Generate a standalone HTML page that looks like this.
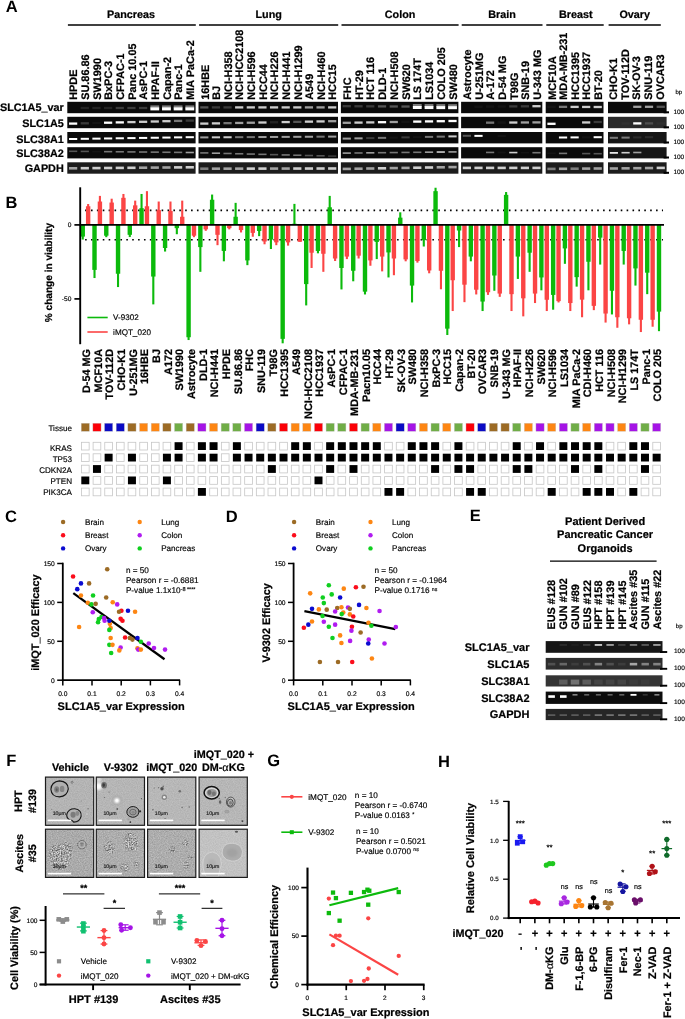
<!DOCTYPE html>
<html lang="en"><head><meta charset="utf-8"><title>Figure</title>
<style>html,body{margin:0;padding:0;background:#fff;}body{width:685px;height:1019px;overflow:hidden;}svg{display:block;filter:blur(0.38px);font-family:'Liberation Sans', sans-serif;}</style>
</head><body>
<svg width="685" height="1019" viewBox="0 0 685 1019" text-rendering="geometricPrecision">
<defs><filter id="bl" x="-20%" y="-100%" width="140%" height="300%"><feGaussianBlur stdDeviation="0.75"/></filter>
<filter id="bl2" x="-50%" y="-50%" width="200%" height="200%"><feGaussianBlur stdDeviation="1.0"/></filter>
<filter id="noise" color-interpolation-filters="sRGB" x="-10%" y="-10%" width="120%" height="120%"><feTurbulence type="fractalNoise" baseFrequency="0.75" numOctaves="2" seed="11" result="n"/><feColorMatrix in="n" type="matrix" values="1.15 0 0 0 0.06  1.15 0 0 0 0.06  1.15 0 0 0 0.06  0 0 0 0 1" result="m"/><feGaussianBlur in="SourceAlpha" stdDeviation="1.1" result="a"/><feComposite in="m" in2="a" operator="in" result="c"/><feColorMatrix in="c" type="matrix" values="1 0 0 0 0  0 1 0 0 0  0 0 1 0 0  0 0 0 0.85 0"/></filter>
<filter id="grain" color-interpolation-filters="sRGB" x="0" y="0" width="100%" height="100%"><feTurbulence type="fractalNoise" baseFrequency="0.85" numOctaves="2" seed="7" result="n"/><feColorMatrix in="n" type="matrix" values="1.2 0 0 0 0.08  1.2 0 0 0 0.08  1.2 0 0 0 0.08  0 0 0 0 0.5"/></filter>
</defs>
<rect width="685" height="1019" fill="#fff"/>
<g id="panelA">
<text x="5.80" y="11.90" font-size="16.5" font-weight="bold" text-anchor="start" fill="#000">A</text>
<text x="63.80" y="111.40" font-size="10.85" font-weight="bold" text-anchor="end" fill="#000" stroke="#000" stroke-width="0.22">SLC1A5_var</text>
<text x="63.80" y="127.40" font-size="10.85" font-weight="bold" text-anchor="end" fill="#000" stroke="#000" stroke-width="0.22">SLC1A5</text>
<text x="63.80" y="142.60" font-size="10.85" font-weight="bold" text-anchor="end" fill="#000" stroke="#000" stroke-width="0.22">SLC38A1</text>
<text x="63.80" y="157.20" font-size="10.85" font-weight="bold" text-anchor="end" fill="#000" stroke="#000" stroke-width="0.22">SLC38A2</text>
<text x="63.80" y="172.40" font-size="10.85" font-weight="bold" text-anchor="end" fill="#000" stroke="#000" stroke-width="0.22">GAPDH</text>
<text x="131.05" y="18.20" font-size="10.8" font-weight="bold" text-anchor="middle" fill="#000" stroke="#000" stroke-width="0.22">Pancreas</text>
<line x1="67.90" y1="24.90" x2="195.80" y2="24.90" stroke="#000" stroke-width="1.5"/>
<text transform="translate(77.33,99.80) rotate(-90)" font-size="10.9" font-weight="bold" text-anchor="start" fill="#000" stroke="#000" stroke-width="0.22">HPDE</text>
<text transform="translate(89.00,99.80) rotate(-90)" font-size="10.9" font-weight="bold" text-anchor="start" fill="#000" stroke="#000" stroke-width="0.22">SU.86.86</text>
<text transform="translate(100.66,99.80) rotate(-90)" font-size="10.9" font-weight="bold" text-anchor="start" fill="#000" stroke="#000" stroke-width="0.22">SW1990</text>
<text transform="translate(112.32,99.80) rotate(-90)" font-size="10.9" font-weight="bold" text-anchor="start" fill="#000" stroke="#000" stroke-width="0.22">BxPC-3</text>
<text transform="translate(123.99,99.80) rotate(-90)" font-size="10.9" font-weight="bold" text-anchor="start" fill="#000" stroke="#000" stroke-width="0.22">CFPAC-1</text>
<text transform="translate(135.65,99.80) rotate(-90)" font-size="10.9" font-weight="bold" text-anchor="start" fill="#000" stroke="#000" stroke-width="0.22">Panc 10.05</text>
<text transform="translate(147.32,99.80) rotate(-90)" font-size="10.9" font-weight="bold" text-anchor="start" fill="#000" stroke="#000" stroke-width="0.22">AsPC-1</text>
<text transform="translate(158.98,99.80) rotate(-90)" font-size="10.9" font-weight="bold" text-anchor="start" fill="#000" stroke="#000" stroke-width="0.22">HPAF-II</text>
<text transform="translate(170.64,99.80) rotate(-90)" font-size="10.9" font-weight="bold" text-anchor="start" fill="#000" stroke="#000" stroke-width="0.22">Capan-2</text>
<text transform="translate(182.31,99.80) rotate(-90)" font-size="10.9" font-weight="bold" text-anchor="start" fill="#000" stroke="#000" stroke-width="0.22">Panc-1</text>
<text transform="translate(193.97,99.80) rotate(-90)" font-size="10.9" font-weight="bold" text-anchor="start" fill="#000" stroke="#000" stroke-width="0.22">MIA PaCa-2</text>
<rect x="67.30" y="101.80" width="128.30" height="11.40" fill="#0a0a0a"/>
<g filter="url(#bl)">
<rect x="80.70" y="106.85" width="8.20" height="2.30" fill="rgb(111,111,111)" opacity="0.25"/>
<rect x="92.36" y="106.85" width="8.20" height="2.30" fill="rgb(111,111,111)" opacity="0.25"/>
<rect x="104.02" y="106.85" width="8.20" height="2.30" fill="rgb(111,111,111)" opacity="0.25"/>
<rect x="115.69" y="106.85" width="8.20" height="2.30" fill="rgb(136,136,136)" opacity="0.38"/>
<rect x="127.35" y="106.85" width="8.20" height="2.30" fill="rgb(136,136,136)" opacity="0.38"/>
<rect x="139.01" y="106.85" width="8.20" height="2.30" fill="rgb(136,136,136)" opacity="0.38"/>
<rect x="150.38" y="105.40" width="8.80" height="3.00" fill="#9a9a9a" opacity="0.8"/>
<rect x="150.38" y="107.40" width="8.80" height="3.00" fill="#ffffff"/>
<rect x="162.04" y="105.40" width="8.80" height="3.00" fill="#9a9a9a" opacity="0.8"/>
<rect x="162.04" y="107.40" width="8.80" height="3.00" fill="#ffffff"/>
<rect x="173.70" y="105.40" width="8.80" height="3.00" fill="#9a9a9a" opacity="0.8"/>
<rect x="173.70" y="107.40" width="8.80" height="3.00" fill="#ffffff"/>
<rect x="185.37" y="105.40" width="8.80" height="3.00" fill="#9a9a9a" opacity="0.8"/>
<rect x="185.37" y="107.40" width="8.80" height="3.00" fill="#ffffff"/>
</g>
<rect x="67.30" y="116.80" width="128.30" height="11.40" fill="#0a0a0a"/>
<g filter="url(#bl)">
<rect x="69.03" y="122.45" width="8.20" height="2.30" fill="rgb(255,255,255)" opacity="1.00"/>
<rect x="80.70" y="122.15" width="8.20" height="2.30" fill="rgb(136,136,136)" opacity="0.38"/>
<rect x="92.36" y="121.85" width="8.20" height="2.30" fill="rgb(87,87,87)" opacity="0.12"/>
<rect x="104.02" y="121.55" width="8.20" height="2.30" fill="rgb(255,255,255)" opacity="1.00"/>
<rect x="115.69" y="121.25" width="8.20" height="2.30" fill="rgb(255,255,255)" opacity="1.00"/>
<rect x="127.35" y="120.95" width="8.20" height="2.30" fill="rgb(232,232,232)" opacity="0.88"/>
<rect x="139.01" y="120.65" width="8.20" height="2.30" fill="rgb(232,232,232)" opacity="0.88"/>
<rect x="150.68" y="120.35" width="8.20" height="2.30" fill="rgb(232,232,232)" opacity="0.88"/>
<rect x="162.34" y="120.05" width="8.20" height="2.30" fill="rgb(232,232,232)" opacity="0.88"/>
<rect x="174.00" y="119.75" width="8.20" height="2.30" fill="rgb(184,184,184)" opacity="0.62"/>
<rect x="185.67" y="119.45" width="8.20" height="2.30" fill="rgb(136,136,136)" opacity="0.38"/>
</g>
<rect x="67.30" y="132.00" width="128.30" height="11.40" fill="#0a0a0a"/>
<g filter="url(#bl)">
<rect x="69.03" y="138.00" width="8.20" height="2.00" fill="rgb(255,255,255)" opacity="1.00"/>
<rect x="80.70" y="137.82" width="8.20" height="2.00" fill="rgb(255,255,255)" opacity="1.00"/>
<rect x="92.36" y="137.64" width="8.20" height="2.00" fill="rgb(255,255,255)" opacity="1.00"/>
<rect x="104.02" y="137.46" width="8.20" height="2.00" fill="rgb(255,255,255)" opacity="1.00"/>
<rect x="115.69" y="137.28" width="8.20" height="2.00" fill="rgb(255,255,255)" opacity="1.00"/>
<rect x="127.35" y="137.10" width="8.20" height="2.00" fill="rgb(255,255,255)" opacity="1.00"/>
<rect x="139.01" y="136.92" width="8.20" height="2.00" fill="rgb(255,255,255)" opacity="1.00"/>
<rect x="150.68" y="136.74" width="8.20" height="2.00" fill="rgb(255,255,255)" opacity="1.00"/>
<rect x="162.34" y="136.56" width="8.20" height="2.00" fill="rgb(255,255,255)" opacity="1.00"/>
<rect x="174.00" y="136.38" width="8.20" height="2.00" fill="rgb(255,255,255)" opacity="1.00"/>
<rect x="185.67" y="136.20" width="8.20" height="2.00" fill="rgb(255,255,255)" opacity="1.00"/>
</g>
<rect x="67.30" y="147.20" width="128.30" height="11.20" fill="#0a0a0a"/>
<g filter="url(#bl)">
<rect x="69.03" y="150.50" width="8.20" height="1.60" fill="rgb(160,160,160)" opacity="0.50"/>
<rect x="80.70" y="150.62" width="8.20" height="1.60" fill="rgb(160,160,160)" opacity="0.50"/>
<rect x="92.36" y="150.74" width="8.20" height="1.60" fill="rgb(87,87,87)" opacity="0.12"/>
<rect x="104.02" y="150.86" width="8.20" height="1.60" fill="rgb(184,184,184)" opacity="0.62"/>
<rect x="115.69" y="150.98" width="8.20" height="1.60" fill="rgb(184,184,184)" opacity="0.62"/>
<rect x="127.35" y="151.10" width="8.20" height="1.60" fill="rgb(184,184,184)" opacity="0.62"/>
<rect x="139.01" y="151.22" width="8.20" height="1.60" fill="rgb(184,184,184)" opacity="0.62"/>
<rect x="150.68" y="151.34" width="8.20" height="1.60" fill="rgb(184,184,184)" opacity="0.62"/>
<rect x="162.34" y="151.46" width="8.20" height="1.60" fill="rgb(184,184,184)" opacity="0.62"/>
<rect x="174.00" y="151.58" width="8.20" height="1.60" fill="rgb(184,184,184)" opacity="0.62"/>
<rect x="185.67" y="151.70" width="8.20" height="1.60" fill="rgb(208,208,208)" opacity="0.75"/>
</g>
<rect x="67.30" y="162.30" width="128.30" height="11.40" fill="#1c1c1c"/>
<g filter="url(#bl)">
<rect x="69.03" y="167.00" width="8.20" height="2.60" fill="rgb(208,208,208)" opacity="0.75"/>
<rect x="80.70" y="166.90" width="8.20" height="2.60" fill="rgb(232,232,232)" opacity="0.88"/>
<rect x="92.36" y="166.80" width="8.20" height="2.60" fill="rgb(232,232,232)" opacity="0.88"/>
<rect x="104.02" y="166.70" width="8.20" height="2.60" fill="rgb(232,232,232)" opacity="0.88"/>
<rect x="115.69" y="166.60" width="8.20" height="2.60" fill="rgb(232,232,232)" opacity="0.88"/>
<rect x="127.35" y="166.50" width="8.20" height="2.60" fill="rgb(232,232,232)" opacity="0.88"/>
<rect x="139.01" y="166.40" width="8.20" height="2.60" fill="rgb(208,208,208)" opacity="0.75"/>
<rect x="150.68" y="166.30" width="8.20" height="2.60" fill="rgb(208,208,208)" opacity="0.75"/>
<rect x="162.34" y="166.20" width="8.20" height="2.60" fill="rgb(208,208,208)" opacity="0.75"/>
<rect x="174.00" y="166.10" width="8.20" height="2.60" fill="rgb(232,232,232)" opacity="0.88"/>
<rect x="185.67" y="166.00" width="8.20" height="2.60" fill="rgb(232,232,232)" opacity="0.88"/>
</g>
<text x="268.65" y="18.20" font-size="10.8" font-weight="bold" text-anchor="middle" fill="#000" stroke="#000" stroke-width="0.22">Lung</text>
<line x1="199.10" y1="24.90" x2="338.20" y2="24.90" stroke="#000" stroke-width="1.5"/>
<text transform="translate(208.51,99.80) rotate(-90)" font-size="10.9" font-weight="bold" text-anchor="start" fill="#000" stroke="#000" stroke-width="0.22">16HBE</text>
<text transform="translate(220.14,99.80) rotate(-90)" font-size="10.9" font-weight="bold" text-anchor="start" fill="#000" stroke="#000" stroke-width="0.22">BJ</text>
<text transform="translate(231.76,99.80) rotate(-90)" font-size="10.9" font-weight="bold" text-anchor="start" fill="#000" stroke="#000" stroke-width="0.22">NCI-H358</text>
<text transform="translate(243.39,99.80) rotate(-90)" font-size="10.9" font-weight="bold" text-anchor="start" fill="#000" stroke="#000" stroke-width="0.22">NCI-HCC2108</text>
<text transform="translate(255.01,99.80) rotate(-90)" font-size="10.9" font-weight="bold" text-anchor="start" fill="#000" stroke="#000" stroke-width="0.22">NCI-H596</text>
<text transform="translate(266.64,99.80) rotate(-90)" font-size="10.9" font-weight="bold" text-anchor="start" fill="#000" stroke="#000" stroke-width="0.22">HCC44</text>
<text transform="translate(278.26,99.80) rotate(-90)" font-size="10.9" font-weight="bold" text-anchor="start" fill="#000" stroke="#000" stroke-width="0.22">NCI-H226</text>
<text transform="translate(289.89,99.80) rotate(-90)" font-size="10.9" font-weight="bold" text-anchor="start" fill="#000" stroke="#000" stroke-width="0.22">NCI-H441</text>
<text transform="translate(301.51,99.80) rotate(-90)" font-size="10.9" font-weight="bold" text-anchor="start" fill="#000" stroke="#000" stroke-width="0.22">NCI-H1299</text>
<text transform="translate(313.14,99.80) rotate(-90)" font-size="10.9" font-weight="bold" text-anchor="start" fill="#000" stroke="#000" stroke-width="0.22">A549</text>
<text transform="translate(324.76,99.80) rotate(-90)" font-size="10.9" font-weight="bold" text-anchor="start" fill="#000" stroke="#000" stroke-width="0.22">NCI-H460</text>
<text transform="translate(336.39,99.80) rotate(-90)" font-size="10.9" font-weight="bold" text-anchor="start" fill="#000" stroke="#000" stroke-width="0.22">HCC15</text>
<rect x="198.50" y="101.80" width="139.50" height="11.40" fill="#0a0a0a"/>
<g filter="url(#bl)">
<rect x="200.21" y="106.25" width="8.20" height="2.30" fill="rgb(160,160,160)" opacity="0.50"/>
<rect x="211.84" y="106.25" width="8.20" height="2.30" fill="rgb(136,136,136)" opacity="0.38"/>
<rect x="223.46" y="106.25" width="8.20" height="2.30" fill="rgb(136,136,136)" opacity="0.38"/>
<rect x="235.09" y="106.25" width="8.20" height="2.30" fill="rgb(232,232,232)" opacity="0.88"/>
<rect x="246.71" y="106.25" width="8.20" height="2.30" fill="rgb(232,232,232)" opacity="0.88"/>
<rect x="258.34" y="106.25" width="8.20" height="2.30" fill="rgb(232,232,232)" opacity="0.88"/>
<rect x="269.96" y="106.25" width="8.20" height="2.30" fill="rgb(232,232,232)" opacity="0.88"/>
<rect x="281.59" y="106.25" width="8.20" height="2.30" fill="rgb(232,232,232)" opacity="0.88"/>
<rect x="293.21" y="106.25" width="8.20" height="2.30" fill="rgb(232,232,232)" opacity="0.88"/>
<rect x="304.84" y="106.25" width="8.20" height="2.30" fill="rgb(208,208,208)" opacity="0.75"/>
<rect x="316.46" y="106.25" width="8.20" height="2.30" fill="rgb(208,208,208)" opacity="0.75"/>
<rect x="328.09" y="106.25" width="8.20" height="2.30" fill="rgb(232,232,232)" opacity="0.88"/>
</g>
<rect x="198.50" y="116.80" width="139.50" height="11.40" fill="#0a0a0a"/>
<g filter="url(#bl)">
<rect x="200.21" y="122.45" width="8.20" height="2.30" fill="rgb(232,232,232)" opacity="0.88"/>
<rect x="211.84" y="122.23" width="8.20" height="2.30" fill="rgb(232,232,232)" opacity="0.88"/>
<rect x="223.46" y="122.01" width="8.20" height="2.30" fill="rgb(184,184,184)" opacity="0.62"/>
<rect x="235.09" y="121.80" width="8.20" height="2.30" fill="rgb(208,208,208)" opacity="0.75"/>
<rect x="246.71" y="121.58" width="8.20" height="2.30" fill="rgb(208,208,208)" opacity="0.75"/>
<rect x="258.34" y="121.36" width="8.20" height="2.30" fill="rgb(232,232,232)" opacity="0.88"/>
<rect x="269.96" y="121.14" width="8.20" height="2.30" fill="rgb(111,111,111)" opacity="0.25"/>
<rect x="281.59" y="120.92" width="8.20" height="2.30" fill="rgb(232,232,232)" opacity="0.88"/>
<rect x="293.21" y="120.70" width="8.20" height="2.30" fill="rgb(160,160,160)" opacity="0.50"/>
<rect x="304.84" y="120.49" width="8.20" height="2.30" fill="rgb(232,232,232)" opacity="0.88"/>
<rect x="316.46" y="120.27" width="8.20" height="2.30" fill="rgb(232,232,232)" opacity="0.88"/>
<rect x="328.09" y="120.05" width="8.20" height="2.30" fill="rgb(208,208,208)" opacity="0.75"/>
</g>
<rect x="198.50" y="132.00" width="139.50" height="11.40" fill="#0a0a0a"/>
<g filter="url(#bl)">
<rect x="200.21" y="136.40" width="8.20" height="2.00" fill="rgb(208,208,208)" opacity="0.75"/>
<rect x="211.84" y="136.33" width="8.20" height="2.00" fill="rgb(232,232,232)" opacity="0.88"/>
<rect x="223.46" y="136.25" width="8.20" height="2.00" fill="rgb(232,232,232)" opacity="0.88"/>
<rect x="235.09" y="136.18" width="8.20" height="2.00" fill="rgb(184,184,184)" opacity="0.62"/>
<rect x="246.71" y="136.11" width="8.20" height="2.00" fill="rgb(184,184,184)" opacity="0.62"/>
<rect x="258.34" y="136.04" width="8.20" height="2.00" fill="rgb(208,208,208)" opacity="0.75"/>
<rect x="269.96" y="135.96" width="8.20" height="2.00" fill="rgb(208,208,208)" opacity="0.75"/>
<rect x="281.59" y="135.89" width="8.20" height="2.00" fill="rgb(208,208,208)" opacity="0.75"/>
<rect x="293.21" y="135.82" width="8.20" height="2.00" fill="rgb(208,208,208)" opacity="0.75"/>
<rect x="304.84" y="135.75" width="8.20" height="2.00" fill="rgb(208,208,208)" opacity="0.75"/>
<rect x="316.46" y="135.67" width="8.20" height="2.00" fill="rgb(184,184,184)" opacity="0.62"/>
<rect x="328.09" y="135.60" width="8.20" height="2.00" fill="rgb(208,208,208)" opacity="0.75"/>
</g>
<rect x="198.50" y="147.20" width="139.50" height="11.20" fill="#0a0a0a"/>
<g filter="url(#bl)">
<rect x="200.21" y="152.10" width="8.20" height="1.60" fill="rgb(184,184,184)" opacity="0.62"/>
<rect x="211.84" y="152.39" width="8.20" height="1.60" fill="rgb(208,208,208)" opacity="0.75"/>
<rect x="223.46" y="152.68" width="8.20" height="1.60" fill="rgb(184,184,184)" opacity="0.62"/>
<rect x="235.09" y="152.97" width="8.20" height="1.60" fill="rgb(184,184,184)" opacity="0.62"/>
<rect x="246.71" y="153.26" width="8.20" height="1.60" fill="rgb(184,184,184)" opacity="0.62"/>
<rect x="258.34" y="153.55" width="8.20" height="1.60" fill="rgb(184,184,184)" opacity="0.62"/>
<rect x="269.96" y="153.85" width="8.20" height="1.60" fill="rgb(160,160,160)" opacity="0.50"/>
<rect x="281.59" y="154.14" width="8.20" height="1.60" fill="rgb(184,184,184)" opacity="0.62"/>
<rect x="293.21" y="154.43" width="8.20" height="1.60" fill="rgb(184,184,184)" opacity="0.62"/>
<rect x="304.84" y="154.72" width="8.20" height="1.60" fill="rgb(160,160,160)" opacity="0.50"/>
<rect x="316.46" y="155.01" width="8.20" height="1.60" fill="rgb(160,160,160)" opacity="0.50"/>
<rect x="328.09" y="155.30" width="8.20" height="1.60" fill="rgb(136,136,136)" opacity="0.38"/>
</g>
<rect x="198.50" y="162.30" width="139.50" height="11.40" fill="#1c1c1c"/>
<g filter="url(#bl)">
<rect x="200.21" y="167.40" width="8.20" height="2.60" fill="rgb(184,184,184)" opacity="0.62"/>
<rect x="211.84" y="167.38" width="8.20" height="2.60" fill="rgb(208,208,208)" opacity="0.75"/>
<rect x="223.46" y="167.36" width="8.20" height="2.60" fill="rgb(208,208,208)" opacity="0.75"/>
<rect x="235.09" y="167.35" width="8.20" height="2.60" fill="rgb(208,208,208)" opacity="0.75"/>
<rect x="246.71" y="167.33" width="8.20" height="2.60" fill="rgb(232,232,232)" opacity="0.88"/>
<rect x="258.34" y="167.31" width="8.20" height="2.60" fill="rgb(232,232,232)" opacity="0.88"/>
<rect x="269.96" y="167.29" width="8.20" height="2.60" fill="rgb(208,208,208)" opacity="0.75"/>
<rect x="281.59" y="167.27" width="8.20" height="2.60" fill="rgb(208,208,208)" opacity="0.75"/>
<rect x="293.21" y="167.25" width="8.20" height="2.60" fill="rgb(232,232,232)" opacity="0.88"/>
<rect x="304.84" y="167.24" width="8.20" height="2.60" fill="rgb(232,232,232)" opacity="0.88"/>
<rect x="316.46" y="167.22" width="8.20" height="2.60" fill="rgb(232,232,232)" opacity="0.88"/>
<rect x="328.09" y="167.20" width="8.20" height="2.60" fill="rgb(232,232,232)" opacity="0.88"/>
</g>
<text x="400.05" y="18.20" font-size="10.8" font-weight="bold" text-anchor="middle" fill="#000" stroke="#000" stroke-width="0.22">Colon</text>
<line x1="341.50" y1="24.90" x2="458.60" y2="24.90" stroke="#000" stroke-width="1.5"/>
<text transform="translate(350.98,99.80) rotate(-90)" font-size="10.9" font-weight="bold" text-anchor="start" fill="#000" stroke="#000" stroke-width="0.22">FHC</text>
<text transform="translate(362.73,99.80) rotate(-90)" font-size="10.9" font-weight="bold" text-anchor="start" fill="#000" stroke="#000" stroke-width="0.22">HT-29</text>
<text transform="translate(374.48,99.80) rotate(-90)" font-size="10.9" font-weight="bold" text-anchor="start" fill="#000" stroke="#000" stroke-width="0.22">HCT 116</text>
<text transform="translate(386.23,99.80) rotate(-90)" font-size="10.9" font-weight="bold" text-anchor="start" fill="#000" stroke="#000" stroke-width="0.22">DLD-1</text>
<text transform="translate(397.98,99.80) rotate(-90)" font-size="10.9" font-weight="bold" text-anchor="start" fill="#000" stroke="#000" stroke-width="0.22">NCI-H508</text>
<text transform="translate(409.73,99.80) rotate(-90)" font-size="10.9" font-weight="bold" text-anchor="start" fill="#000" stroke="#000" stroke-width="0.22">SW620</text>
<text transform="translate(421.48,99.80) rotate(-90)" font-size="10.9" font-weight="bold" text-anchor="start" fill="#000" stroke="#000" stroke-width="0.22">LS 174T</text>
<text transform="translate(433.23,99.80) rotate(-90)" font-size="10.9" font-weight="bold" text-anchor="start" fill="#000" stroke="#000" stroke-width="0.22">LS1034</text>
<text transform="translate(444.98,99.80) rotate(-90)" font-size="10.9" font-weight="bold" text-anchor="start" fill="#000" stroke="#000" stroke-width="0.22">COLO 205</text>
<text transform="translate(456.73,99.80) rotate(-90)" font-size="10.9" font-weight="bold" text-anchor="start" fill="#000" stroke="#000" stroke-width="0.22">SW480</text>
<rect x="340.90" y="101.80" width="117.50" height="11.40" fill="#0a0a0a"/>
<g filter="url(#bl)">
<rect x="342.67" y="105.05" width="8.20" height="2.30" fill="rgb(136,136,136)" opacity="0.38"/>
<rect x="354.42" y="105.12" width="8.20" height="2.30" fill="rgb(136,136,136)" opacity="0.38"/>
<rect x="366.17" y="105.18" width="8.20" height="2.30" fill="rgb(136,136,136)" opacity="0.38"/>
<rect x="377.92" y="105.25" width="8.20" height="2.30" fill="rgb(160,160,160)" opacity="0.50"/>
<rect x="389.67" y="105.32" width="8.20" height="2.30" fill="rgb(160,160,160)" opacity="0.50"/>
<rect x="401.42" y="105.38" width="8.20" height="2.30" fill="rgb(160,160,160)" opacity="0.50"/>
<rect x="412.88" y="104.00" width="8.80" height="3.00" fill="#9a9a9a" opacity="0.8"/>
<rect x="412.88" y="106.00" width="8.80" height="3.00" fill="#ffffff"/>
<rect x="424.62" y="104.07" width="8.80" height="3.00" fill="#9a9a9a" opacity="0.8"/>
<rect x="424.62" y="106.07" width="8.80" height="3.00" fill="#ffffff"/>
<rect x="436.38" y="104.13" width="8.80" height="3.00" fill="#9a9a9a" opacity="0.8"/>
<rect x="436.38" y="106.13" width="8.80" height="3.00" fill="#ffffff"/>
<rect x="448.12" y="104.20" width="8.80" height="3.00" fill="#9a9a9a" opacity="0.8"/>
<rect x="448.12" y="106.20" width="8.80" height="3.00" fill="#ffffff"/>
</g>
<rect x="340.90" y="116.80" width="117.50" height="11.40" fill="#0a0a0a"/>
<g filter="url(#bl)">
<rect x="342.67" y="121.65" width="8.20" height="2.30" fill="rgb(208,208,208)" opacity="0.75"/>
<rect x="354.42" y="121.45" width="8.20" height="2.30" fill="rgb(232,232,232)" opacity="0.88"/>
<rect x="366.17" y="121.25" width="8.20" height="2.30" fill="rgb(232,232,232)" opacity="0.88"/>
<rect x="377.92" y="121.05" width="8.20" height="2.30" fill="rgb(255,255,255)" opacity="1.00"/>
<rect x="389.67" y="120.85" width="8.20" height="2.30" fill="rgb(208,208,208)" opacity="0.75"/>
<rect x="401.42" y="120.65" width="8.20" height="2.30" fill="rgb(87,87,87)" opacity="0.12"/>
<rect x="413.17" y="120.45" width="8.20" height="2.30" fill="rgb(255,255,255)" opacity="1.00"/>
<rect x="424.92" y="120.25" width="8.20" height="2.30" fill="rgb(255,255,255)" opacity="1.00"/>
<rect x="436.67" y="120.05" width="8.20" height="2.30" fill="rgb(255,255,255)" opacity="1.00"/>
<rect x="448.42" y="119.85" width="8.20" height="2.30" fill="rgb(255,255,255)" opacity="1.00"/>
</g>
<rect x="340.90" y="132.00" width="117.50" height="11.40" fill="#0a0a0a"/>
<g filter="url(#bl)">
<rect x="342.67" y="137.60" width="8.20" height="2.00" fill="rgb(208,208,208)" opacity="0.75"/>
<rect x="354.42" y="137.36" width="8.20" height="2.00" fill="rgb(208,208,208)" opacity="0.75"/>
<rect x="366.17" y="137.11" width="8.20" height="2.00" fill="rgb(136,136,136)" opacity="0.38"/>
<rect x="377.92" y="136.87" width="8.20" height="2.00" fill="rgb(184,184,184)" opacity="0.62"/>
<rect x="389.67" y="136.62" width="8.20" height="2.00" fill="rgb(87,87,87)" opacity="0.12"/>
<rect x="401.42" y="136.38" width="8.20" height="2.00" fill="rgb(136,136,136)" opacity="0.38"/>
<rect x="413.17" y="136.13" width="8.20" height="2.00" fill="rgb(87,87,87)" opacity="0.12"/>
<rect x="424.92" y="135.89" width="8.20" height="2.00" fill="rgb(184,184,184)" opacity="0.62"/>
<rect x="436.67" y="135.64" width="8.20" height="2.00" fill="rgb(184,184,184)" opacity="0.62"/>
<rect x="448.42" y="135.40" width="8.20" height="2.00" fill="rgb(232,232,232)" opacity="0.88"/>
</g>
<rect x="340.90" y="147.20" width="117.50" height="11.20" fill="#0a0a0a"/>
<g filter="url(#bl)">
<rect x="342.67" y="152.30" width="8.20" height="1.60" fill="rgb(208,208,208)" opacity="0.75"/>
<rect x="354.42" y="152.17" width="8.20" height="1.60" fill="rgb(184,184,184)" opacity="0.62"/>
<rect x="366.17" y="152.03" width="8.20" height="1.60" fill="rgb(208,208,208)" opacity="0.75"/>
<rect x="377.92" y="151.90" width="8.20" height="1.60" fill="rgb(184,184,184)" opacity="0.62"/>
<rect x="389.67" y="151.77" width="8.20" height="1.60" fill="rgb(184,184,184)" opacity="0.62"/>
<rect x="401.42" y="151.63" width="8.20" height="1.60" fill="rgb(184,184,184)" opacity="0.62"/>
<rect x="413.17" y="151.50" width="8.20" height="1.60" fill="rgb(184,184,184)" opacity="0.62"/>
<rect x="424.92" y="151.37" width="8.20" height="1.60" fill="rgb(208,208,208)" opacity="0.75"/>
<rect x="436.67" y="151.23" width="8.20" height="1.60" fill="rgb(232,232,232)" opacity="0.88"/>
<rect x="448.42" y="151.10" width="8.20" height="1.60" fill="rgb(208,208,208)" opacity="0.75"/>
</g>
<rect x="340.90" y="162.30" width="117.50" height="11.40" fill="#1c1c1c"/>
<g filter="url(#bl)">
<rect x="342.67" y="167.60" width="8.20" height="2.60" fill="rgb(208,208,208)" opacity="0.75"/>
<rect x="354.42" y="167.40" width="8.20" height="2.60" fill="rgb(208,208,208)" opacity="0.75"/>
<rect x="366.17" y="167.20" width="8.20" height="2.60" fill="rgb(208,208,208)" opacity="0.75"/>
<rect x="377.92" y="167.00" width="8.20" height="2.60" fill="rgb(232,232,232)" opacity="0.88"/>
<rect x="389.67" y="166.80" width="8.20" height="2.60" fill="rgb(208,208,208)" opacity="0.75"/>
<rect x="401.42" y="166.60" width="8.20" height="2.60" fill="rgb(208,208,208)" opacity="0.75"/>
<rect x="413.17" y="166.40" width="8.20" height="2.60" fill="rgb(232,232,232)" opacity="0.88"/>
<rect x="424.92" y="166.20" width="8.20" height="2.60" fill="rgb(232,232,232)" opacity="0.88"/>
<rect x="436.67" y="166.00" width="8.20" height="2.60" fill="rgb(208,208,208)" opacity="0.75"/>
<rect x="448.42" y="165.80" width="8.20" height="2.60" fill="rgb(208,208,208)" opacity="0.75"/>
</g>
<text x="502.10" y="18.20" font-size="10.8" font-weight="bold" text-anchor="middle" fill="#000" stroke="#000" stroke-width="0.22">Brain</text>
<line x1="461.70" y1="24.90" x2="542.50" y2="24.90" stroke="#000" stroke-width="1.5"/>
<text transform="translate(471.10,99.80) rotate(-90)" font-size="10.9" font-weight="bold" text-anchor="start" fill="#000" stroke="#000" stroke-width="0.22">Astrocyte</text>
<text transform="translate(482.70,99.80) rotate(-90)" font-size="10.9" font-weight="bold" text-anchor="start" fill="#000" stroke="#000" stroke-width="0.22">U-251MG</text>
<text transform="translate(494.30,99.80) rotate(-90)" font-size="10.9" font-weight="bold" text-anchor="start" fill="#000" stroke="#000" stroke-width="0.22">A-172</text>
<text transform="translate(505.90,99.80) rotate(-90)" font-size="10.9" font-weight="bold" text-anchor="start" fill="#000" stroke="#000" stroke-width="0.22">D-54 MG</text>
<text transform="translate(517.50,99.80) rotate(-90)" font-size="10.9" font-weight="bold" text-anchor="start" fill="#000" stroke="#000" stroke-width="0.22">T98G</text>
<text transform="translate(529.10,99.80) rotate(-90)" font-size="10.9" font-weight="bold" text-anchor="start" fill="#000" stroke="#000" stroke-width="0.22">SNB-19</text>
<text transform="translate(540.70,99.80) rotate(-90)" font-size="10.9" font-weight="bold" text-anchor="start" fill="#000" stroke="#000" stroke-width="0.22">U-343 MG</text>
<rect x="461.10" y="101.80" width="81.20" height="11.40" fill="#0a0a0a"/>
<g filter="url(#bl)">
<rect x="474.40" y="105.55" width="8.20" height="2.30" fill="rgb(87,87,87)" opacity="0.12"/>
<rect x="486.00" y="105.45" width="8.20" height="2.30" fill="rgb(87,87,87)" opacity="0.12"/>
<rect x="497.60" y="105.35" width="8.20" height="2.30" fill="rgb(87,87,87)" opacity="0.12"/>
<rect x="509.20" y="105.25" width="8.20" height="2.30" fill="rgb(136,136,136)" opacity="0.38"/>
<rect x="520.80" y="105.15" width="8.20" height="2.30" fill="rgb(136,136,136)" opacity="0.38"/>
<rect x="532.40" y="105.05" width="8.20" height="2.30" fill="rgb(232,232,232)" opacity="0.88"/>
</g>
<rect x="461.10" y="116.80" width="81.20" height="11.40" fill="#0a0a0a"/>
<g filter="url(#bl)">
<rect x="486.00" y="121.52" width="8.20" height="2.30" fill="rgb(184,184,184)" opacity="0.62"/>
<rect x="497.60" y="121.45" width="8.20" height="2.30" fill="rgb(87,87,87)" opacity="0.12"/>
<rect x="509.20" y="121.38" width="8.20" height="2.30" fill="rgb(232,232,232)" opacity="0.88"/>
<rect x="520.80" y="121.32" width="8.20" height="2.30" fill="rgb(208,208,208)" opacity="0.75"/>
<rect x="532.40" y="121.25" width="8.20" height="2.30" fill="rgb(208,208,208)" opacity="0.75"/>
</g>
<rect x="461.10" y="132.00" width="81.20" height="11.40" fill="#0a0a0a"/>
<g filter="url(#bl)">
<rect x="462.80" y="134.80" width="8.20" height="2.00" fill="rgb(160,160,160)" opacity="0.50"/>
<rect x="474.40" y="134.87" width="8.20" height="2.00" fill="rgb(255,255,255)" opacity="1.00"/>
<rect x="497.60" y="135.00" width="8.20" height="2.00" fill="rgb(87,87,87)" opacity="0.12"/>
</g>
<rect x="461.10" y="147.20" width="81.20" height="11.20" fill="#0a0a0a"/>
<g filter="url(#bl)">
<rect x="486.00" y="151.63" width="8.20" height="1.60" fill="rgb(184,184,184)" opacity="0.62"/>
<rect x="497.60" y="151.70" width="8.20" height="1.60" fill="rgb(87,87,87)" opacity="0.12"/>
<rect x="509.20" y="151.77" width="8.20" height="1.60" fill="rgb(232,232,232)" opacity="0.88"/>
<rect x="520.80" y="151.83" width="8.20" height="1.60" fill="rgb(87,87,87)" opacity="0.12"/>
<rect x="532.40" y="151.90" width="8.20" height="1.60" fill="rgb(184,184,184)" opacity="0.62"/>
</g>
<rect x="461.10" y="162.30" width="81.20" height="11.40" fill="#1c1c1c"/>
<g filter="url(#bl)">
<rect x="462.80" y="166.60" width="8.20" height="2.60" fill="rgb(232,232,232)" opacity="0.88"/>
<rect x="474.40" y="166.60" width="8.20" height="2.60" fill="rgb(232,232,232)" opacity="0.88"/>
<rect x="486.00" y="166.60" width="8.20" height="2.60" fill="rgb(232,232,232)" opacity="0.88"/>
<rect x="497.60" y="166.60" width="8.20" height="2.60" fill="rgb(232,232,232)" opacity="0.88"/>
<rect x="509.20" y="166.60" width="8.20" height="2.60" fill="rgb(232,232,232)" opacity="0.88"/>
<rect x="520.80" y="166.60" width="8.20" height="2.60" fill="rgb(232,232,232)" opacity="0.88"/>
<rect x="532.40" y="166.60" width="8.20" height="2.60" fill="rgb(232,232,232)" opacity="0.88"/>
</g>
<text x="575.80" y="18.20" font-size="10.8" font-weight="bold" text-anchor="middle" fill="#000" stroke="#000" stroke-width="0.22">Breast</text>
<line x1="546.30" y1="24.90" x2="603.70" y2="24.90" stroke="#000" stroke-width="1.5"/>
<text transform="translate(555.68,99.80) rotate(-90)" font-size="10.9" font-weight="bold" text-anchor="start" fill="#000" stroke="#000" stroke-width="0.22">MCF10A</text>
<text transform="translate(567.24,99.80) rotate(-90)" font-size="10.9" font-weight="bold" text-anchor="start" fill="#000" stroke="#000" stroke-width="0.22">MDA-MB-231</text>
<text transform="translate(578.80,99.80) rotate(-90)" font-size="10.9" font-weight="bold" text-anchor="start" fill="#000" stroke="#000" stroke-width="0.22">HCC1395</text>
<text transform="translate(590.36,99.80) rotate(-90)" font-size="10.9" font-weight="bold" text-anchor="start" fill="#000" stroke="#000" stroke-width="0.22">HCC1937</text>
<text transform="translate(601.92,99.80) rotate(-90)" font-size="10.9" font-weight="bold" text-anchor="start" fill="#000" stroke="#000" stroke-width="0.22">BT-20</text>
<rect x="545.70" y="101.80" width="57.80" height="11.40" fill="#0a0a0a"/>
<g filter="url(#bl)">
<rect x="547.38" y="105.65" width="8.20" height="2.30" fill="rgb(87,87,87)" opacity="0.12"/>
<rect x="558.94" y="105.70" width="8.20" height="2.30" fill="rgb(184,184,184)" opacity="0.62"/>
<rect x="570.50" y="105.75" width="8.20" height="2.30" fill="rgb(232,232,232)" opacity="0.88"/>
<rect x="582.06" y="105.80" width="8.20" height="2.30" fill="rgb(232,232,232)" opacity="0.88"/>
<rect x="593.62" y="105.85" width="8.20" height="2.30" fill="rgb(232,232,232)" opacity="0.88"/>
</g>
<rect x="545.70" y="116.80" width="57.80" height="11.40" fill="#0a0a0a"/>
<g filter="url(#bl)">
<rect x="547.38" y="122.65" width="8.20" height="2.30" fill="rgb(255,255,255)" opacity="1.00"/>
<rect x="582.06" y="121.30" width="8.20" height="2.30" fill="rgb(232,232,232)" opacity="0.88"/>
<rect x="593.62" y="120.85" width="8.20" height="2.30" fill="rgb(136,136,136)" opacity="0.38"/>
</g>
<rect x="545.70" y="132.00" width="57.80" height="11.40" fill="#0a0a0a"/>
<g filter="url(#bl)">
<rect x="558.94" y="136.50" width="8.20" height="2.00" fill="rgb(255,255,255)" opacity="1.00"/>
<rect x="570.50" y="136.40" width="8.20" height="2.00" fill="rgb(255,255,255)" opacity="1.00"/>
<rect x="582.06" y="136.30" width="8.20" height="2.00" fill="rgb(87,87,87)" opacity="0.12"/>
<rect x="593.62" y="136.20" width="8.20" height="2.00" fill="rgb(255,255,255)" opacity="1.00"/>
</g>
<rect x="545.70" y="147.20" width="57.80" height="11.20" fill="#0a0a0a"/>
<g filter="url(#bl)">
<rect x="547.38" y="152.50" width="8.20" height="1.60" fill="rgb(87,87,87)" opacity="0.12"/>
<rect x="558.94" y="152.60" width="8.20" height="1.60" fill="rgb(184,184,184)" opacity="0.62"/>
<rect x="582.06" y="152.80" width="8.20" height="1.60" fill="rgb(160,160,160)" opacity="0.50"/>
<rect x="593.62" y="152.90" width="8.20" height="1.60" fill="rgb(160,160,160)" opacity="0.50"/>
</g>
<rect x="545.70" y="162.30" width="57.80" height="11.40" fill="#1c1c1c"/>
<g filter="url(#bl)">
<rect x="547.38" y="167.60" width="8.20" height="2.60" fill="rgb(184,184,184)" opacity="0.62"/>
<rect x="558.94" y="167.50" width="8.20" height="2.60" fill="rgb(208,208,208)" opacity="0.75"/>
<rect x="570.50" y="167.40" width="8.20" height="2.60" fill="rgb(184,184,184)" opacity="0.62"/>
<rect x="582.06" y="167.30" width="8.20" height="2.60" fill="rgb(208,208,208)" opacity="0.75"/>
<rect x="593.62" y="167.20" width="8.20" height="2.60" fill="rgb(208,208,208)" opacity="0.75"/>
</g>
<text x="634.70" y="18.20" font-size="10.8" font-weight="bold" text-anchor="middle" fill="#000" stroke="#000" stroke-width="0.22">Ovary</text>
<line x1="608.60" y1="24.90" x2="660.80" y2="24.90" stroke="#000" stroke-width="1.5"/>
<text transform="translate(616.96,99.80) rotate(-90)" font-size="10.9" font-weight="bold" text-anchor="start" fill="#000" stroke="#000" stroke-width="0.22">CHO-K1</text>
<text transform="translate(628.68,99.80) rotate(-90)" font-size="10.9" font-weight="bold" text-anchor="start" fill="#000" stroke="#000" stroke-width="0.22">TOV-112D</text>
<text transform="translate(640.40,99.80) rotate(-90)" font-size="10.9" font-weight="bold" text-anchor="start" fill="#000" stroke="#000" stroke-width="0.22">SK-OV-3</text>
<text transform="translate(652.12,99.80) rotate(-90)" font-size="10.9" font-weight="bold" text-anchor="start" fill="#000" stroke="#000" stroke-width="0.22">SNU-119</text>
<text transform="translate(663.84,99.80) rotate(-90)" font-size="10.9" font-weight="bold" text-anchor="start" fill="#000" stroke="#000" stroke-width="0.22">OVCAR3</text>
<rect x="608.00" y="101.80" width="58.60" height="11.40" fill="#0a0a0a"/>
<g filter="url(#bl)">
<rect x="633.20" y="105.65" width="8.20" height="2.30" fill="rgb(208,208,208)" opacity="0.75"/>
<rect x="644.92" y="105.65" width="8.20" height="2.30" fill="rgb(208,208,208)" opacity="0.75"/>
<rect x="656.64" y="105.65" width="8.20" height="2.30" fill="rgb(160,160,160)" opacity="0.50"/>
</g>
<rect x="608.00" y="116.80" width="58.60" height="11.40" fill="#2a2a2a"/>
<g filter="url(#bl)">
<rect x="621.48" y="122.25" width="8.20" height="2.30" fill="rgb(87,87,87)" opacity="0.12"/>
<rect x="633.20" y="122.25" width="8.20" height="2.30" fill="rgb(255,255,255)" opacity="1.00"/>
<rect x="644.92" y="122.25" width="8.20" height="2.30" fill="rgb(136,136,136)" opacity="0.38"/>
<rect x="656.64" y="122.25" width="8.20" height="2.30" fill="rgb(87,87,87)" opacity="0.12"/>
</g>
<rect x="608.00" y="132.00" width="58.60" height="11.40" fill="#161616"/>
<g filter="url(#bl)">
<rect x="609.76" y="136.80" width="8.20" height="2.00" fill="rgb(184,184,184)" opacity="0.62"/>
<rect x="621.48" y="136.60" width="8.20" height="2.00" fill="rgb(184,184,184)" opacity="0.62"/>
<rect x="633.20" y="136.40" width="8.20" height="2.00" fill="rgb(111,111,111)" opacity="0.25"/>
<rect x="644.92" y="136.20" width="8.20" height="2.00" fill="rgb(111,111,111)" opacity="0.25"/>
</g>
<rect x="608.00" y="147.20" width="58.60" height="11.20" fill="#161616"/>
<g filter="url(#bl)">
<rect x="609.76" y="152.10" width="8.20" height="1.60" fill="rgb(255,255,255)" opacity="1.00"/>
<rect x="621.48" y="151.90" width="8.20" height="1.60" fill="rgb(232,232,232)" opacity="0.88"/>
<rect x="633.20" y="151.70" width="8.20" height="1.60" fill="rgb(208,208,208)" opacity="0.75"/>
</g>
<rect x="608.00" y="162.30" width="58.60" height="11.40" fill="#1c1c1c"/>
<g filter="url(#bl)">
<rect x="609.76" y="167.20" width="8.20" height="2.60" fill="rgb(208,208,208)" opacity="0.75"/>
<rect x="621.48" y="167.05" width="8.20" height="2.60" fill="rgb(208,208,208)" opacity="0.75"/>
<rect x="633.20" y="166.90" width="8.20" height="2.60" fill="rgb(208,208,208)" opacity="0.75"/>
<rect x="644.92" y="166.75" width="8.20" height="2.60" fill="rgb(208,208,208)" opacity="0.75"/>
<rect x="656.64" y="166.60" width="8.20" height="2.60" fill="rgb(232,232,232)" opacity="0.88"/>
</g>
<text x="675.40" y="94.00" font-size="6.0" text-anchor="start" fill="#000" stroke="#000" stroke-width="0.16">bp</text>
<line x1="663.60" y1="112.30" x2="669.00" y2="112.30" stroke="#000" stroke-width="2.0"/>
<text x="673.40" y="113.80" font-size="6.5" text-anchor="start" fill="#000" stroke="#000" stroke-width="0.16">100</text>
<line x1="663.60" y1="127.30" x2="669.00" y2="127.30" stroke="#000" stroke-width="2.0"/>
<text x="673.40" y="128.80" font-size="6.5" text-anchor="start" fill="#000" stroke="#000" stroke-width="0.16">100</text>
<line x1="663.60" y1="142.50" x2="669.00" y2="142.50" stroke="#000" stroke-width="2.0"/>
<text x="673.40" y="144.00" font-size="6.5" text-anchor="start" fill="#000" stroke="#000" stroke-width="0.16">100</text>
<line x1="663.60" y1="157.50" x2="669.00" y2="157.50" stroke="#000" stroke-width="2.0"/>
<text x="673.40" y="159.00" font-size="6.5" text-anchor="start" fill="#000" stroke="#000" stroke-width="0.16">100</text>
<line x1="663.60" y1="172.80" x2="669.00" y2="172.80" stroke="#000" stroke-width="2.0"/>
<text x="673.40" y="174.30" font-size="6.5" text-anchor="start" fill="#000" stroke="#000" stroke-width="0.16">100</text>
</g>
<g id="panelB">
<text x="5.40" y="207.70" font-size="16.5" font-weight="bold" text-anchor="start" fill="#000">B</text>
<line x1="85.1" y1="210.40" x2="663" y2="210.40" stroke="#000" stroke-width="1.6" stroke-dasharray="1.6 4.286"/>
<line x1="85.1" y1="239.70" x2="663" y2="239.70" stroke="#000" stroke-width="1.6" stroke-dasharray="1.6 4.286"/>
<rect x="80.55" y="224.90" width="4.40" height="11.69" fill="#0cba0c"/>
<rect x="81.70" y="224.90" width="2.10" height="14.65" fill="#0cba0c"/>
<rect x="85.95" y="206.25" width="4.40" height="18.65" fill="#fb4545"/>
<rect x="87.10" y="204.03" width="2.10" height="20.87" fill="#fb4545"/>
<rect x="92.31" y="224.90" width="4.40" height="44.99" fill="#0cba0c"/>
<rect x="93.46" y="224.90" width="2.10" height="53.13" fill="#0cba0c"/>
<rect x="97.71" y="201.52" width="4.40" height="23.38" fill="#fb4545"/>
<rect x="98.86" y="195.89" width="2.10" height="29.01" fill="#fb4545"/>
<rect x="104.07" y="224.90" width="4.40" height="10.80" fill="#0cba0c"/>
<rect x="105.22" y="224.90" width="2.10" height="12.28" fill="#0cba0c"/>
<rect x="109.47" y="202.55" width="4.40" height="22.35" fill="#fb4545"/>
<rect x="110.62" y="198.70" width="2.10" height="26.20" fill="#fb4545"/>
<rect x="115.83" y="224.90" width="4.40" height="48.84" fill="#0cba0c"/>
<rect x="116.98" y="224.90" width="2.10" height="62.16" fill="#0cba0c"/>
<rect x="121.23" y="197.82" width="4.40" height="27.08" fill="#fb4545"/>
<rect x="122.38" y="193.97" width="2.10" height="30.93" fill="#fb4545"/>
<rect x="127.59" y="224.90" width="4.40" height="9.92" fill="#0cba0c"/>
<rect x="128.74" y="224.90" width="2.10" height="12.14" fill="#0cba0c"/>
<rect x="132.99" y="205.36" width="4.40" height="19.54" fill="#fb4545"/>
<rect x="134.14" y="200.63" width="2.10" height="24.27" fill="#fb4545"/>
<rect x="139.35" y="208.18" width="4.40" height="16.72" fill="#0cba0c"/>
<rect x="140.50" y="193.97" width="2.10" height="30.93" fill="#0cba0c"/>
<rect x="144.75" y="206.25" width="4.40" height="18.65" fill="#fb4545"/>
<rect x="145.90" y="191.16" width="2.10" height="33.74" fill="#fb4545"/>
<rect x="151.11" y="224.90" width="4.40" height="51.65" fill="#0cba0c"/>
<rect x="152.26" y="224.90" width="2.10" height="79.48" fill="#0cba0c"/>
<rect x="156.51" y="210.10" width="4.40" height="14.80" fill="#fb4545"/>
<rect x="157.66" y="201.52" width="2.10" height="23.38" fill="#fb4545"/>
<rect x="162.87" y="224.90" width="4.40" height="23.09" fill="#0cba0c"/>
<rect x="164.02" y="224.90" width="2.10" height="26.64" fill="#0cba0c"/>
<rect x="168.27" y="210.99" width="4.40" height="13.91" fill="#fb4545"/>
<rect x="169.42" y="201.52" width="2.10" height="23.38" fill="#fb4545"/>
<rect x="174.63" y="224.90" width="4.40" height="3.26" fill="#0cba0c"/>
<rect x="175.78" y="224.90" width="2.10" height="9.32" fill="#0cba0c"/>
<rect x="180.03" y="216.76" width="4.40" height="8.14" fill="#fb4545"/>
<rect x="181.18" y="200.63" width="2.10" height="24.27" fill="#fb4545"/>
<rect x="186.39" y="224.90" width="4.40" height="112.33" fill="#0cba0c"/>
<rect x="187.54" y="224.90" width="2.10" height="115.14" fill="#0cba0c"/>
<rect x="191.79" y="224.90" width="4.40" height="10.80" fill="#fb4545"/>
<rect x="192.94" y="224.90" width="2.10" height="12.28" fill="#fb4545"/>
<rect x="198.15" y="224.90" width="4.40" height="22.20" fill="#0cba0c"/>
<rect x="199.30" y="224.90" width="2.10" height="46.92" fill="#0cba0c"/>
<rect x="203.55" y="224.90" width="4.40" height="4.44" fill="#fb4545"/>
<rect x="204.70" y="224.90" width="2.10" height="5.92" fill="#fb4545"/>
<rect x="209.91" y="199.74" width="4.40" height="25.16" fill="#0cba0c"/>
<rect x="211.06" y="194.56" width="2.10" height="30.34" fill="#0cba0c"/>
<rect x="215.31" y="224.90" width="4.40" height="9.92" fill="#fb4545"/>
<rect x="216.46" y="224.90" width="2.10" height="20.28" fill="#fb4545"/>
<rect x="221.67" y="224.90" width="4.40" height="26.05" fill="#0cba0c"/>
<rect x="222.82" y="224.90" width="2.10" height="36.41" fill="#0cba0c"/>
<rect x="227.07" y="224.90" width="4.40" height="3.26" fill="#fb4545"/>
<rect x="228.22" y="224.90" width="2.10" height="4.44" fill="#fb4545"/>
<rect x="233.43" y="216.76" width="4.40" height="8.14" fill="#0cba0c"/>
<rect x="234.58" y="202.85" width="2.10" height="22.05" fill="#0cba0c"/>
<rect x="238.83" y="224.90" width="4.40" height="5.18" fill="#fb4545"/>
<rect x="239.98" y="224.90" width="2.10" height="7.55" fill="#fb4545"/>
<rect x="245.19" y="224.90" width="4.40" height="35.52" fill="#0cba0c"/>
<rect x="246.34" y="224.90" width="2.10" height="40.26" fill="#0cba0c"/>
<rect x="250.59" y="224.90" width="4.40" height="7.99" fill="#fb4545"/>
<rect x="251.74" y="224.90" width="2.10" height="11.84" fill="#fb4545"/>
<rect x="256.95" y="224.90" width="4.40" height="6.07" fill="#0cba0c"/>
<rect x="258.10" y="224.90" width="2.10" height="11.25" fill="#0cba0c"/>
<rect x="262.35" y="224.90" width="4.40" height="16.58" fill="#fb4545"/>
<rect x="263.50" y="224.90" width="2.10" height="19.39" fill="#fb4545"/>
<rect x="268.71" y="224.90" width="4.40" height="14.65" fill="#0cba0c"/>
<rect x="269.86" y="224.90" width="2.10" height="24.12" fill="#0cba0c"/>
<rect x="274.11" y="224.90" width="4.40" height="17.46" fill="#fb4545"/>
<rect x="275.26" y="224.90" width="2.10" height="20.28" fill="#fb4545"/>
<rect x="280.47" y="224.90" width="4.40" height="113.96" fill="#0cba0c"/>
<rect x="281.62" y="224.90" width="2.10" height="118.40" fill="#0cba0c"/>
<rect x="285.87" y="224.90" width="4.40" height="17.46" fill="#fb4545"/>
<rect x="287.02" y="224.90" width="2.10" height="20.72" fill="#fb4545"/>
<rect x="292.23" y="223.72" width="4.40" height="1.18" fill="#0cba0c"/>
<rect x="293.38" y="203.88" width="2.10" height="21.02" fill="#0cba0c"/>
<rect x="297.63" y="224.90" width="4.40" height="16.87" fill="#fb4545"/>
<rect x="298.78" y="224.90" width="2.10" height="16.87" fill="#fb4545"/>
<rect x="303.99" y="224.90" width="4.40" height="59.20" fill="#0cba0c"/>
<rect x="305.14" y="224.90" width="2.10" height="80.51" fill="#0cba0c"/>
<rect x="309.39" y="224.90" width="4.40" height="27.82" fill="#fb4545"/>
<rect x="310.54" y="224.90" width="2.10" height="43.07" fill="#fb4545"/>
<rect x="315.75" y="224.90" width="4.40" height="26.05" fill="#0cba0c"/>
<rect x="316.90" y="224.90" width="2.10" height="28.42" fill="#0cba0c"/>
<rect x="321.15" y="224.90" width="4.40" height="28.86" fill="#fb4545"/>
<rect x="322.30" y="224.90" width="2.10" height="46.92" fill="#fb4545"/>
<rect x="327.51" y="207.29" width="4.40" height="17.61" fill="#0cba0c"/>
<rect x="328.66" y="195.89" width="2.10" height="29.01" fill="#0cba0c"/>
<rect x="332.91" y="224.90" width="4.40" height="33.60" fill="#fb4545"/>
<rect x="334.06" y="224.90" width="2.10" height="36.11" fill="#fb4545"/>
<rect x="339.27" y="224.90" width="4.40" height="43.07" fill="#0cba0c"/>
<rect x="340.42" y="224.90" width="2.10" height="64.53" fill="#0cba0c"/>
<rect x="344.67" y="224.90" width="4.40" height="31.67" fill="#fb4545"/>
<rect x="345.82" y="224.90" width="2.10" height="34.19" fill="#fb4545"/>
<rect x="351.03" y="224.90" width="4.40" height="45.88" fill="#0cba0c"/>
<rect x="352.18" y="224.90" width="2.10" height="56.39" fill="#0cba0c"/>
<rect x="356.43" y="224.90" width="4.40" height="30.78" fill="#fb4545"/>
<rect x="357.58" y="224.90" width="2.10" height="33.60" fill="#fb4545"/>
<rect x="362.79" y="224.90" width="4.40" height="66.75" fill="#0cba0c"/>
<rect x="363.94" y="224.90" width="2.10" height="69.56" fill="#0cba0c"/>
<rect x="368.19" y="224.90" width="4.40" height="35.52" fill="#fb4545"/>
<rect x="369.34" y="224.90" width="2.10" height="40.85" fill="#fb4545"/>
<rect x="374.55" y="224.90" width="4.40" height="17.02" fill="#0cba0c"/>
<rect x="375.70" y="224.90" width="2.10" height="34.19" fill="#0cba0c"/>
<rect x="379.95" y="224.90" width="4.40" height="31.67" fill="#fb4545"/>
<rect x="381.10" y="224.90" width="2.10" height="46.47" fill="#fb4545"/>
<rect x="386.31" y="224.90" width="4.40" height="27.53" fill="#0cba0c"/>
<rect x="387.46" y="224.90" width="2.10" height="52.54" fill="#0cba0c"/>
<rect x="391.71" y="224.90" width="4.40" height="33.60" fill="#fb4545"/>
<rect x="392.86" y="224.90" width="2.10" height="50.32" fill="#fb4545"/>
<rect x="398.07" y="217.65" width="4.40" height="7.25" fill="#0cba0c"/>
<rect x="399.22" y="212.32" width="2.10" height="12.58" fill="#0cba0c"/>
<rect x="403.47" y="224.90" width="4.40" height="34.48" fill="#fb4545"/>
<rect x="404.62" y="224.90" width="2.10" height="36.41" fill="#fb4545"/>
<rect x="409.83" y="224.90" width="4.40" height="60.68" fill="#0cba0c"/>
<rect x="410.98" y="224.90" width="2.10" height="77.55" fill="#0cba0c"/>
<rect x="415.23" y="224.90" width="4.40" height="36.11" fill="#fb4545"/>
<rect x="416.38" y="224.90" width="2.10" height="37.74" fill="#fb4545"/>
<rect x="421.59" y="224.90" width="4.40" height="15.24" fill="#0cba0c"/>
<rect x="422.74" y="224.90" width="2.10" height="21.61" fill="#0cba0c"/>
<rect x="426.99" y="224.90" width="4.40" height="45.58" fill="#fb4545"/>
<rect x="428.14" y="224.90" width="2.10" height="48.40" fill="#fb4545"/>
<rect x="433.35" y="191.16" width="4.40" height="33.74" fill="#0cba0c"/>
<rect x="434.50" y="187.75" width="2.10" height="37.15" fill="#0cba0c"/>
<rect x="438.75" y="224.90" width="4.40" height="45.88" fill="#fb4545"/>
<rect x="439.90" y="224.90" width="2.10" height="64.38" fill="#fb4545"/>
<rect x="445.11" y="224.90" width="4.40" height="103.75" fill="#0cba0c"/>
<rect x="446.26" y="224.90" width="2.10" height="110.11" fill="#0cba0c"/>
<rect x="450.51" y="224.90" width="4.40" height="55.35" fill="#fb4545"/>
<rect x="451.66" y="224.90" width="2.10" height="86.14" fill="#fb4545"/>
<rect x="456.87" y="224.90" width="4.40" height="5.62" fill="#0cba0c"/>
<rect x="458.02" y="224.90" width="2.10" height="22.20" fill="#0cba0c"/>
<rect x="462.27" y="224.90" width="4.40" height="59.79" fill="#fb4545"/>
<rect x="463.42" y="224.90" width="2.10" height="77.26" fill="#fb4545"/>
<rect x="468.63" y="224.90" width="4.40" height="31.67" fill="#0cba0c"/>
<rect x="469.78" y="224.90" width="2.10" height="36.41" fill="#0cba0c"/>
<rect x="474.03" y="224.90" width="4.40" height="64.82" fill="#fb4545"/>
<rect x="475.18" y="224.90" width="2.10" height="69.56" fill="#fb4545"/>
<rect x="480.39" y="224.90" width="4.40" height="76.66" fill="#0cba0c"/>
<rect x="481.54" y="224.90" width="2.10" height="86.14" fill="#0cba0c"/>
<rect x="485.79" y="224.90" width="4.40" height="67.34" fill="#fb4545"/>
<rect x="486.94" y="224.90" width="2.10" height="70.00" fill="#fb4545"/>
<rect x="492.15" y="224.90" width="4.40" height="50.62" fill="#0cba0c"/>
<rect x="493.30" y="224.90" width="2.10" height="65.86" fill="#0cba0c"/>
<rect x="497.55" y="224.90" width="4.40" height="68.67" fill="#fb4545"/>
<rect x="498.70" y="224.90" width="2.10" height="71.93" fill="#fb4545"/>
<rect x="503.91" y="194.86" width="4.40" height="30.04" fill="#0cba0c"/>
<rect x="505.06" y="192.04" width="2.10" height="32.86" fill="#0cba0c"/>
<rect x="509.31" y="224.90" width="4.40" height="69.26" fill="#fb4545"/>
<rect x="510.46" y="224.90" width="2.10" height="86.14" fill="#fb4545"/>
<rect x="515.67" y="224.90" width="4.40" height="31.67" fill="#0cba0c"/>
<rect x="516.82" y="224.90" width="2.10" height="54.02" fill="#0cba0c"/>
<rect x="521.07" y="224.90" width="4.40" height="73.41" fill="#fb4545"/>
<rect x="522.22" y="224.90" width="2.10" height="91.46" fill="#fb4545"/>
<rect x="527.43" y="224.90" width="4.40" height="27.82" fill="#0cba0c"/>
<rect x="528.58" y="224.90" width="2.10" height="46.92" fill="#0cba0c"/>
<rect x="532.83" y="224.90" width="4.40" height="68.67" fill="#fb4545"/>
<rect x="533.98" y="224.90" width="2.10" height="78.14" fill="#fb4545"/>
<rect x="539.19" y="224.90" width="4.40" height="52.54" fill="#0cba0c"/>
<rect x="540.34" y="224.90" width="2.10" height="65.42" fill="#0cba0c"/>
<rect x="544.59" y="224.90" width="4.40" height="74.89" fill="#fb4545"/>
<rect x="545.74" y="224.90" width="2.10" height="86.14" fill="#fb4545"/>
<rect x="550.95" y="224.90" width="4.40" height="70.00" fill="#0cba0c"/>
<rect x="552.10" y="224.90" width="2.10" height="84.80" fill="#0cba0c"/>
<rect x="556.35" y="224.90" width="4.40" height="76.22" fill="#fb4545"/>
<rect x="557.50" y="224.90" width="2.10" height="77.55" fill="#fb4545"/>
<rect x="562.71" y="224.90" width="4.40" height="23.53" fill="#0cba0c"/>
<rect x="563.86" y="224.90" width="2.10" height="38.92" fill="#0cba0c"/>
<rect x="568.11" y="224.90" width="4.40" height="78.14" fill="#fb4545"/>
<rect x="569.26" y="224.90" width="2.10" height="86.14" fill="#fb4545"/>
<rect x="574.47" y="224.90" width="4.40" height="52.24" fill="#0cba0c"/>
<rect x="575.62" y="224.90" width="2.10" height="61.72" fill="#0cba0c"/>
<rect x="579.87" y="224.90" width="4.40" height="74.74" fill="#fb4545"/>
<rect x="581.02" y="224.90" width="2.10" height="92.35" fill="#fb4545"/>
<rect x="586.23" y="224.90" width="4.40" height="36.85" fill="#0cba0c"/>
<rect x="587.38" y="224.90" width="2.10" height="65.42" fill="#0cba0c"/>
<rect x="591.63" y="224.90" width="4.40" height="80.96" fill="#fb4545"/>
<rect x="592.78" y="224.90" width="2.10" height="85.25" fill="#fb4545"/>
<rect x="597.99" y="224.90" width="4.40" height="12.73" fill="#0cba0c"/>
<rect x="599.14" y="224.90" width="2.10" height="39.66" fill="#0cba0c"/>
<rect x="603.39" y="224.90" width="4.40" height="88.65" fill="#fb4545"/>
<rect x="604.54" y="224.90" width="2.10" height="97.68" fill="#fb4545"/>
<rect x="609.75" y="224.90" width="4.40" height="65.86" fill="#0cba0c"/>
<rect x="610.90" y="224.90" width="2.10" height="89.54" fill="#0cba0c"/>
<rect x="615.15" y="224.90" width="4.40" height="92.35" fill="#fb4545"/>
<rect x="616.30" y="224.90" width="2.10" height="102.86" fill="#fb4545"/>
<rect x="621.51" y="224.90" width="4.40" height="26.05" fill="#0cba0c"/>
<rect x="622.66" y="224.90" width="2.10" height="39.66" fill="#0cba0c"/>
<rect x="626.91" y="224.90" width="4.40" height="93.39" fill="#fb4545"/>
<rect x="628.06" y="224.90" width="2.10" height="99.46" fill="#fb4545"/>
<rect x="633.27" y="224.90" width="4.40" height="43.51" fill="#0cba0c"/>
<rect x="634.42" y="224.90" width="2.10" height="60.68" fill="#0cba0c"/>
<rect x="638.67" y="224.90" width="4.40" height="94.87" fill="#fb4545"/>
<rect x="639.82" y="224.90" width="2.10" height="107.15" fill="#fb4545"/>
<rect x="645.03" y="224.90" width="4.40" height="47.80" fill="#0cba0c"/>
<rect x="646.18" y="224.90" width="2.10" height="69.26" fill="#0cba0c"/>
<rect x="650.43" y="224.90" width="4.40" height="94.87" fill="#fb4545"/>
<rect x="651.58" y="224.90" width="2.10" height="101.82" fill="#fb4545"/>
<rect x="656.79" y="224.90" width="4.40" height="86.73" fill="#0cba0c"/>
<rect x="657.94" y="224.90" width="2.10" height="106.26" fill="#0cba0c"/>
<line x1="80.20" y1="187.30" x2="80.20" y2="344.20" stroke="#000" stroke-width="1.9"/>
<line x1="79.30" y1="224.90" x2="664.00" y2="224.90" stroke="#000" stroke-width="1.9"/>
<line x1="74.40" y1="224.90" x2="80.20" y2="224.90" stroke="#000" stroke-width="1.7"/>
<line x1="74.40" y1="298.90" x2="80.20" y2="298.90" stroke="#000" stroke-width="1.7"/>
<text x="71.40" y="227.30" font-size="6.6" text-anchor="end" fill="#000" stroke="#000" stroke-width="0.16">0</text>
<text x="71.40" y="301.30" font-size="6.6" text-anchor="end" fill="#000" stroke="#000" stroke-width="0.16">-50</text>
<text transform="translate(51.6,272.6) rotate(-90)" font-size="10.1" font-weight="bold" stroke="#000" stroke-width="0.22" text-anchor="middle">% change in viability</text>
<line x1="87.40" y1="317.50" x2="107.70" y2="317.50" stroke="#0cba0c" stroke-width="1.6"/>
<line x1="87.40" y1="332.00" x2="107.70" y2="332.00" stroke="#fb4545" stroke-width="1.6"/>
<text x="113.10" y="320.40" font-size="8.1" text-anchor="start" fill="#000" stroke="#000" stroke-width="0.16">V-9302</text>
<text x="113.10" y="334.90" font-size="8.1" text-anchor="start" fill="#000" stroke="#000" stroke-width="0.16">iMQT_020</text>
<text x="72.00" y="431.20" font-size="8.1" text-anchor="end" fill="#000" stroke="#000" stroke-width="0.16">Tissue</text>
<text x="72.00" y="451.40" font-size="8.1" text-anchor="end" fill="#000" stroke="#000" stroke-width="0.16">KRAS</text>
<text x="72.00" y="462.20" font-size="8.1" text-anchor="end" fill="#000" stroke="#000" stroke-width="0.16">TP53</text>
<text x="72.00" y="472.90" font-size="8.1" text-anchor="end" fill="#000" stroke="#000" stroke-width="0.16">CDKN2A</text>
<text x="72.00" y="483.90" font-size="8.1" text-anchor="end" fill="#000" stroke="#000" stroke-width="0.16">PTEN</text>
<text x="72.00" y="495.10" font-size="8.1" text-anchor="end" fill="#000" stroke="#000" stroke-width="0.16">PIK3CA</text>
<text transform="translate(89.98,349.00) rotate(-90)" font-size="10.85" font-weight="bold" text-anchor="end" fill="#000" stroke="#000" stroke-width="0.22">D-54 MG</text>
<rect x="81.20" y="423.20" width="8.20" height="8.10" fill="#9c6b25" stroke="#c9c9c9" stroke-width="0.4"/>
<rect x="81.45" y="442.30" width="7.70" height="7.70" fill="#fff" stroke="#c6c6c6" stroke-width="0.8"/>
<rect x="81.45" y="453.80" width="7.70" height="7.70" fill="#fff" stroke="#c6c6c6" stroke-width="0.8"/>
<rect x="81.45" y="465.20" width="7.70" height="7.70" fill="#fff" stroke="#c6c6c6" stroke-width="0.8"/>
<rect x="81.30" y="476.50" width="8.00" height="7.80" fill="#000"/>
<rect x="81.45" y="488.10" width="7.70" height="7.70" fill="#fff" stroke="#c6c6c6" stroke-width="0.8"/>
<text transform="translate(101.64,349.00) rotate(-90)" font-size="10.85" font-weight="bold" text-anchor="end" fill="#000" stroke="#000" stroke-width="0.22">MCF10A</text>
<rect x="92.86" y="423.20" width="8.20" height="8.10" fill="#fb0007" stroke="#c9c9c9" stroke-width="0.4"/>
<rect x="93.11" y="442.30" width="7.70" height="7.70" fill="#fff" stroke="#c6c6c6" stroke-width="0.8"/>
<rect x="93.11" y="453.80" width="7.70" height="7.70" fill="#fff" stroke="#c6c6c6" stroke-width="0.8"/>
<rect x="92.96" y="465.10" width="8.00" height="7.80" fill="#000"/>
<rect x="93.11" y="476.60" width="7.70" height="7.70" fill="#fff" stroke="#c6c6c6" stroke-width="0.8"/>
<rect x="93.11" y="488.10" width="7.70" height="7.70" fill="#fff" stroke="#c6c6c6" stroke-width="0.8"/>
<text transform="translate(113.30,349.00) rotate(-90)" font-size="10.85" font-weight="bold" text-anchor="end" fill="#000" stroke="#000" stroke-width="0.22">TOV-112D</text>
<rect x="104.52" y="423.20" width="8.20" height="8.10" fill="#0b0bc4" stroke="#c9c9c9" stroke-width="0.4"/>
<rect x="104.77" y="442.30" width="7.70" height="7.70" fill="#fff" stroke="#c6c6c6" stroke-width="0.8"/>
<rect x="104.62" y="453.70" width="8.00" height="7.80" fill="#000"/>
<rect x="104.77" y="465.20" width="7.70" height="7.70" fill="#fff" stroke="#c6c6c6" stroke-width="0.8"/>
<rect x="104.77" y="476.60" width="7.70" height="7.70" fill="#fff" stroke="#c6c6c6" stroke-width="0.8"/>
<rect x="104.77" y="488.10" width="7.70" height="7.70" fill="#fff" stroke="#c6c6c6" stroke-width="0.8"/>
<text transform="translate(124.96,349.00) rotate(-90)" font-size="10.85" font-weight="bold" text-anchor="end" fill="#000" stroke="#000" stroke-width="0.22">CHO-K1</text>
<rect x="116.18" y="423.20" width="8.20" height="8.10" fill="#0b0bc4" stroke="#c9c9c9" stroke-width="0.4"/>
<rect x="116.43" y="442.30" width="7.70" height="7.70" fill="#fff" stroke="#c6c6c6" stroke-width="0.8"/>
<rect x="116.43" y="453.80" width="7.70" height="7.70" fill="#fff" stroke="#c6c6c6" stroke-width="0.8"/>
<rect x="116.43" y="465.20" width="7.70" height="7.70" fill="#fff" stroke="#c6c6c6" stroke-width="0.8"/>
<rect x="116.43" y="476.60" width="7.70" height="7.70" fill="#fff" stroke="#c6c6c6" stroke-width="0.8"/>
<rect x="116.43" y="488.10" width="7.70" height="7.70" fill="#fff" stroke="#c6c6c6" stroke-width="0.8"/>
<text transform="translate(136.62,349.00) rotate(-90)" font-size="10.85" font-weight="bold" text-anchor="end" fill="#000" stroke="#000" stroke-width="0.22">U-251MG</text>
<rect x="127.84" y="423.20" width="8.20" height="8.10" fill="#9c6b25" stroke="#c9c9c9" stroke-width="0.4"/>
<rect x="128.09" y="442.30" width="7.70" height="7.70" fill="#fff" stroke="#c6c6c6" stroke-width="0.8"/>
<rect x="127.94" y="453.70" width="8.00" height="7.80" fill="#000"/>
<rect x="128.09" y="465.20" width="7.70" height="7.70" fill="#fff" stroke="#c6c6c6" stroke-width="0.8"/>
<rect x="127.94" y="476.50" width="8.00" height="7.80" fill="#000"/>
<rect x="128.09" y="488.10" width="7.70" height="7.70" fill="#fff" stroke="#c6c6c6" stroke-width="0.8"/>
<text transform="translate(148.28,349.00) rotate(-90)" font-size="10.85" font-weight="bold" text-anchor="end" fill="#000" stroke="#000" stroke-width="0.22">16HBE</text>
<rect x="139.50" y="423.20" width="8.20" height="8.10" fill="#fd8613" stroke="#c9c9c9" stroke-width="0.4"/>
<rect x="139.75" y="442.30" width="7.70" height="7.70" fill="#fff" stroke="#c6c6c6" stroke-width="0.8"/>
<rect x="139.75" y="453.80" width="7.70" height="7.70" fill="#fff" stroke="#c6c6c6" stroke-width="0.8"/>
<rect x="139.75" y="465.20" width="7.70" height="7.70" fill="#fff" stroke="#c6c6c6" stroke-width="0.8"/>
<rect x="139.75" y="476.60" width="7.70" height="7.70" fill="#fff" stroke="#c6c6c6" stroke-width="0.8"/>
<rect x="139.75" y="488.10" width="7.70" height="7.70" fill="#fff" stroke="#c6c6c6" stroke-width="0.8"/>
<text transform="translate(159.94,349.00) rotate(-90)" font-size="10.85" font-weight="bold" text-anchor="end" fill="#000" stroke="#000" stroke-width="0.22">BJ</text>
<rect x="151.16" y="423.20" width="8.20" height="8.10" fill="#fd8613" stroke="#c9c9c9" stroke-width="0.4"/>
<rect x="151.41" y="442.30" width="7.70" height="7.70" fill="#fff" stroke="#c6c6c6" stroke-width="0.8"/>
<rect x="151.41" y="453.80" width="7.70" height="7.70" fill="#fff" stroke="#c6c6c6" stroke-width="0.8"/>
<rect x="151.41" y="465.20" width="7.70" height="7.70" fill="#fff" stroke="#c6c6c6" stroke-width="0.8"/>
<rect x="151.41" y="476.60" width="7.70" height="7.70" fill="#fff" stroke="#c6c6c6" stroke-width="0.8"/>
<rect x="151.41" y="488.10" width="7.70" height="7.70" fill="#fff" stroke="#c6c6c6" stroke-width="0.8"/>
<text transform="translate(171.60,349.00) rotate(-90)" font-size="10.85" font-weight="bold" text-anchor="end" fill="#000" stroke="#000" stroke-width="0.22">A172</text>
<rect x="162.82" y="423.20" width="8.20" height="8.10" fill="#9c6b25" stroke="#c9c9c9" stroke-width="0.4"/>
<rect x="163.07" y="442.30" width="7.70" height="7.70" fill="#fff" stroke="#c6c6c6" stroke-width="0.8"/>
<rect x="162.92" y="453.70" width="8.00" height="7.80" fill="#000"/>
<rect x="163.07" y="465.20" width="7.70" height="7.70" fill="#fff" stroke="#c6c6c6" stroke-width="0.8"/>
<rect x="162.92" y="476.50" width="8.00" height="7.80" fill="#000"/>
<rect x="163.07" y="488.10" width="7.70" height="7.70" fill="#fff" stroke="#c6c6c6" stroke-width="0.8"/>
<text transform="translate(183.26,349.00) rotate(-90)" font-size="10.85" font-weight="bold" text-anchor="end" fill="#000" stroke="#000" stroke-width="0.22">SW1990</text>
<rect x="174.48" y="423.20" width="8.20" height="8.10" fill="#70ad47" stroke="#c9c9c9" stroke-width="0.4"/>
<rect x="174.58" y="442.20" width="8.00" height="7.80" fill="#000"/>
<rect x="174.58" y="453.70" width="8.00" height="7.80" fill="#000"/>
<rect x="174.73" y="465.20" width="7.70" height="7.70" fill="#fff" stroke="#c6c6c6" stroke-width="0.8"/>
<rect x="174.73" y="476.60" width="7.70" height="7.70" fill="#fff" stroke="#c6c6c6" stroke-width="0.8"/>
<rect x="174.73" y="488.10" width="7.70" height="7.70" fill="#fff" stroke="#c6c6c6" stroke-width="0.8"/>
<text transform="translate(194.92,349.00) rotate(-90)" font-size="10.85" font-weight="bold" text-anchor="end" fill="#000" stroke="#000" stroke-width="0.22">Astrocyte</text>
<rect x="186.14" y="423.20" width="8.20" height="8.10" fill="#9c6b25" stroke="#c9c9c9" stroke-width="0.4"/>
<rect x="186.39" y="442.30" width="7.70" height="7.70" fill="#fff" stroke="#c6c6c6" stroke-width="0.8"/>
<rect x="186.39" y="453.80" width="7.70" height="7.70" fill="#fff" stroke="#c6c6c6" stroke-width="0.8"/>
<rect x="186.39" y="465.20" width="7.70" height="7.70" fill="#fff" stroke="#c6c6c6" stroke-width="0.8"/>
<rect x="186.39" y="476.60" width="7.70" height="7.70" fill="#fff" stroke="#c6c6c6" stroke-width="0.8"/>
<rect x="186.39" y="488.10" width="7.70" height="7.70" fill="#fff" stroke="#c6c6c6" stroke-width="0.8"/>
<text transform="translate(206.58,349.00) rotate(-90)" font-size="10.85" font-weight="bold" text-anchor="end" fill="#000" stroke="#000" stroke-width="0.22">DLD-1</text>
<rect x="197.80" y="423.20" width="8.20" height="8.10" fill="#a514e6" stroke="#c9c9c9" stroke-width="0.4"/>
<rect x="197.90" y="442.20" width="8.00" height="7.80" fill="#000"/>
<rect x="197.90" y="453.70" width="8.00" height="7.80" fill="#000"/>
<rect x="198.05" y="465.20" width="7.70" height="7.70" fill="#fff" stroke="#c6c6c6" stroke-width="0.8"/>
<rect x="198.05" y="476.60" width="7.70" height="7.70" fill="#fff" stroke="#c6c6c6" stroke-width="0.8"/>
<rect x="197.90" y="488.00" width="8.00" height="7.80" fill="#000"/>
<text transform="translate(218.24,349.00) rotate(-90)" font-size="10.85" font-weight="bold" text-anchor="end" fill="#000" stroke="#000" stroke-width="0.22">NCI-H441</text>
<rect x="209.46" y="423.20" width="8.20" height="8.10" fill="#fd8613" stroke="#c9c9c9" stroke-width="0.4"/>
<rect x="209.56" y="442.20" width="8.00" height="7.80" fill="#000"/>
<rect x="209.56" y="453.70" width="8.00" height="7.80" fill="#000"/>
<rect x="209.71" y="465.20" width="7.70" height="7.70" fill="#fff" stroke="#c6c6c6" stroke-width="0.8"/>
<rect x="209.71" y="476.60" width="7.70" height="7.70" fill="#fff" stroke="#c6c6c6" stroke-width="0.8"/>
<rect x="209.71" y="488.10" width="7.70" height="7.70" fill="#fff" stroke="#c6c6c6" stroke-width="0.8"/>
<text transform="translate(229.90,349.00) rotate(-90)" font-size="10.85" font-weight="bold" text-anchor="end" fill="#000" stroke="#000" stroke-width="0.22">HPDE</text>
<rect x="221.12" y="423.20" width="8.20" height="8.10" fill="#70ad47" stroke="#c9c9c9" stroke-width="0.4"/>
<rect x="221.37" y="442.30" width="7.70" height="7.70" fill="#fff" stroke="#c6c6c6" stroke-width="0.8"/>
<rect x="221.37" y="453.80" width="7.70" height="7.70" fill="#fff" stroke="#c6c6c6" stroke-width="0.8"/>
<rect x="221.37" y="465.20" width="7.70" height="7.70" fill="#fff" stroke="#c6c6c6" stroke-width="0.8"/>
<rect x="221.37" y="476.60" width="7.70" height="7.70" fill="#fff" stroke="#c6c6c6" stroke-width="0.8"/>
<rect x="221.37" y="488.10" width="7.70" height="7.70" fill="#fff" stroke="#c6c6c6" stroke-width="0.8"/>
<text transform="translate(241.56,349.00) rotate(-90)" font-size="10.85" font-weight="bold" text-anchor="end" fill="#000" stroke="#000" stroke-width="0.22">SU.86.86</text>
<rect x="232.78" y="423.20" width="8.20" height="8.10" fill="#70ad47" stroke="#c9c9c9" stroke-width="0.4"/>
<rect x="232.88" y="442.20" width="8.00" height="7.80" fill="#000"/>
<rect x="232.88" y="453.70" width="8.00" height="7.80" fill="#000"/>
<rect x="233.03" y="465.20" width="7.70" height="7.70" fill="#fff" stroke="#c6c6c6" stroke-width="0.8"/>
<rect x="233.03" y="476.60" width="7.70" height="7.70" fill="#fff" stroke="#c6c6c6" stroke-width="0.8"/>
<rect x="233.03" y="488.10" width="7.70" height="7.70" fill="#fff" stroke="#c6c6c6" stroke-width="0.8"/>
<text transform="translate(253.22,349.00) rotate(-90)" font-size="10.85" font-weight="bold" text-anchor="end" fill="#000" stroke="#000" stroke-width="0.22">FHC</text>
<rect x="244.44" y="423.20" width="8.20" height="8.10" fill="#a514e6" stroke="#c9c9c9" stroke-width="0.4"/>
<rect x="244.69" y="442.30" width="7.70" height="7.70" fill="#fff" stroke="#c6c6c6" stroke-width="0.8"/>
<rect x="244.54" y="453.70" width="8.00" height="7.80" fill="#000"/>
<rect x="244.69" y="465.20" width="7.70" height="7.70" fill="#fff" stroke="#c6c6c6" stroke-width="0.8"/>
<rect x="244.69" y="476.60" width="7.70" height="7.70" fill="#fff" stroke="#c6c6c6" stroke-width="0.8"/>
<rect x="244.69" y="488.10" width="7.70" height="7.70" fill="#fff" stroke="#c6c6c6" stroke-width="0.8"/>
<text transform="translate(264.88,349.00) rotate(-90)" font-size="10.85" font-weight="bold" text-anchor="end" fill="#000" stroke="#000" stroke-width="0.22">SNU-119</text>
<rect x="256.10" y="423.20" width="8.20" height="8.10" fill="#0b0bc4" stroke="#c9c9c9" stroke-width="0.4"/>
<rect x="256.35" y="442.30" width="7.70" height="7.70" fill="#fff" stroke="#c6c6c6" stroke-width="0.8"/>
<rect x="256.20" y="453.70" width="8.00" height="7.80" fill="#000"/>
<rect x="256.35" y="465.20" width="7.70" height="7.70" fill="#fff" stroke="#c6c6c6" stroke-width="0.8"/>
<rect x="256.35" y="476.60" width="7.70" height="7.70" fill="#fff" stroke="#c6c6c6" stroke-width="0.8"/>
<rect x="256.35" y="488.10" width="7.70" height="7.70" fill="#fff" stroke="#c6c6c6" stroke-width="0.8"/>
<text transform="translate(276.54,349.00) rotate(-90)" font-size="10.85" font-weight="bold" text-anchor="end" fill="#000" stroke="#000" stroke-width="0.22">T98G</text>
<rect x="267.76" y="423.20" width="8.20" height="8.10" fill="#9c6b25" stroke="#c9c9c9" stroke-width="0.4"/>
<rect x="268.01" y="442.30" width="7.70" height="7.70" fill="#fff" stroke="#c6c6c6" stroke-width="0.8"/>
<rect x="267.86" y="453.70" width="8.00" height="7.80" fill="#000"/>
<rect x="267.86" y="465.10" width="8.00" height="7.80" fill="#000"/>
<rect x="268.01" y="476.60" width="7.70" height="7.70" fill="#fff" stroke="#c6c6c6" stroke-width="0.8"/>
<rect x="268.01" y="488.10" width="7.70" height="7.70" fill="#fff" stroke="#c6c6c6" stroke-width="0.8"/>
<text transform="translate(288.20,349.00) rotate(-90)" font-size="10.85" font-weight="bold" text-anchor="end" fill="#000" stroke="#000" stroke-width="0.22">HCC1395</text>
<rect x="279.42" y="423.20" width="8.20" height="8.10" fill="#fb0007" stroke="#c9c9c9" stroke-width="0.4"/>
<rect x="279.67" y="442.30" width="7.70" height="7.70" fill="#fff" stroke="#c6c6c6" stroke-width="0.8"/>
<rect x="279.52" y="453.70" width="8.00" height="7.80" fill="#000"/>
<rect x="279.67" y="465.20" width="7.70" height="7.70" fill="#fff" stroke="#c6c6c6" stroke-width="0.8"/>
<rect x="279.67" y="476.60" width="7.70" height="7.70" fill="#fff" stroke="#c6c6c6" stroke-width="0.8"/>
<rect x="279.67" y="488.10" width="7.70" height="7.70" fill="#fff" stroke="#c6c6c6" stroke-width="0.8"/>
<text transform="translate(299.86,349.00) rotate(-90)" font-size="10.85" font-weight="bold" text-anchor="end" fill="#000" stroke="#000" stroke-width="0.22">A549</text>
<rect x="291.08" y="423.20" width="8.20" height="8.10" fill="#fd8613" stroke="#c9c9c9" stroke-width="0.4"/>
<rect x="291.18" y="442.20" width="8.00" height="7.80" fill="#000"/>
<rect x="291.18" y="453.70" width="8.00" height="7.80" fill="#000"/>
<rect x="291.33" y="465.20" width="7.70" height="7.70" fill="#fff" stroke="#c6c6c6" stroke-width="0.8"/>
<rect x="291.33" y="476.60" width="7.70" height="7.70" fill="#fff" stroke="#c6c6c6" stroke-width="0.8"/>
<rect x="291.33" y="488.10" width="7.70" height="7.70" fill="#fff" stroke="#c6c6c6" stroke-width="0.8"/>
<text transform="translate(311.52,349.00) rotate(-90)" font-size="10.85" font-weight="bold" text-anchor="end" fill="#000" stroke="#000" stroke-width="0.22">NCI-HCC2108</text>
<rect x="302.74" y="423.20" width="8.20" height="8.10" fill="#fd8613" stroke="#c9c9c9" stroke-width="0.4"/>
<rect x="302.84" y="442.20" width="8.00" height="7.80" fill="#000"/>
<rect x="302.84" y="453.70" width="8.00" height="7.80" fill="#000"/>
<rect x="302.99" y="465.20" width="7.70" height="7.70" fill="#fff" stroke="#c6c6c6" stroke-width="0.8"/>
<rect x="302.99" y="476.60" width="7.70" height="7.70" fill="#fff" stroke="#c6c6c6" stroke-width="0.8"/>
<rect x="302.99" y="488.10" width="7.70" height="7.70" fill="#fff" stroke="#c6c6c6" stroke-width="0.8"/>
<text transform="translate(323.18,349.00) rotate(-90)" font-size="10.85" font-weight="bold" text-anchor="end" fill="#000" stroke="#000" stroke-width="0.22">HCC1937</text>
<rect x="314.40" y="423.20" width="8.20" height="8.10" fill="#fb0007" stroke="#c9c9c9" stroke-width="0.4"/>
<rect x="314.65" y="442.30" width="7.70" height="7.70" fill="#fff" stroke="#c6c6c6" stroke-width="0.8"/>
<rect x="314.50" y="453.70" width="8.00" height="7.80" fill="#000"/>
<rect x="314.65" y="465.20" width="7.70" height="7.70" fill="#fff" stroke="#c6c6c6" stroke-width="0.8"/>
<rect x="314.50" y="476.50" width="8.00" height="7.80" fill="#000"/>
<rect x="314.65" y="488.10" width="7.70" height="7.70" fill="#fff" stroke="#c6c6c6" stroke-width="0.8"/>
<text transform="translate(334.84,349.00) rotate(-90)" font-size="10.85" font-weight="bold" text-anchor="end" fill="#000" stroke="#000" stroke-width="0.22">AsPC-1</text>
<rect x="326.06" y="423.20" width="8.20" height="8.10" fill="#70ad47" stroke="#c9c9c9" stroke-width="0.4"/>
<rect x="326.16" y="442.20" width="8.00" height="7.80" fill="#000"/>
<rect x="326.16" y="453.70" width="8.00" height="7.80" fill="#000"/>
<rect x="326.16" y="465.10" width="8.00" height="7.80" fill="#000"/>
<rect x="326.31" y="476.60" width="7.70" height="7.70" fill="#fff" stroke="#c6c6c6" stroke-width="0.8"/>
<rect x="326.31" y="488.10" width="7.70" height="7.70" fill="#fff" stroke="#c6c6c6" stroke-width="0.8"/>
<text transform="translate(346.50,349.00) rotate(-90)" font-size="10.85" font-weight="bold" text-anchor="end" fill="#000" stroke="#000" stroke-width="0.22">CFPAC-1</text>
<rect x="337.72" y="423.20" width="8.20" height="8.10" fill="#70ad47" stroke="#c9c9c9" stroke-width="0.4"/>
<rect x="337.82" y="442.20" width="8.00" height="7.80" fill="#000"/>
<rect x="337.82" y="453.70" width="8.00" height="7.80" fill="#000"/>
<rect x="337.97" y="465.20" width="7.70" height="7.70" fill="#fff" stroke="#c6c6c6" stroke-width="0.8"/>
<rect x="337.97" y="476.60" width="7.70" height="7.70" fill="#fff" stroke="#c6c6c6" stroke-width="0.8"/>
<rect x="337.97" y="488.10" width="7.70" height="7.70" fill="#fff" stroke="#c6c6c6" stroke-width="0.8"/>
<text transform="translate(358.16,349.00) rotate(-90)" font-size="10.85" font-weight="bold" text-anchor="end" fill="#000" stroke="#000" stroke-width="0.22">MDA-MB-231</text>
<rect x="349.38" y="423.20" width="8.20" height="8.10" fill="#fb0007" stroke="#c9c9c9" stroke-width="0.4"/>
<rect x="349.48" y="442.20" width="8.00" height="7.80" fill="#000"/>
<rect x="349.48" y="453.70" width="8.00" height="7.80" fill="#000"/>
<rect x="349.48" y="465.10" width="8.00" height="7.80" fill="#000"/>
<rect x="349.63" y="476.60" width="7.70" height="7.70" fill="#fff" stroke="#c6c6c6" stroke-width="0.8"/>
<rect x="349.63" y="488.10" width="7.70" height="7.70" fill="#fff" stroke="#c6c6c6" stroke-width="0.8"/>
<text transform="translate(369.82,349.00) rotate(-90)" font-size="10.85" font-weight="bold" text-anchor="end" fill="#000" stroke="#000" stroke-width="0.22">Pacn10.05</text>
<rect x="361.04" y="423.20" width="8.20" height="8.10" fill="#70ad47" stroke="#c9c9c9" stroke-width="0.4"/>
<rect x="361.14" y="442.20" width="8.00" height="7.80" fill="#000"/>
<rect x="361.14" y="453.70" width="8.00" height="7.80" fill="#000"/>
<rect x="361.29" y="465.20" width="7.70" height="7.70" fill="#fff" stroke="#c6c6c6" stroke-width="0.8"/>
<rect x="361.29" y="476.60" width="7.70" height="7.70" fill="#fff" stroke="#c6c6c6" stroke-width="0.8"/>
<rect x="361.29" y="488.10" width="7.70" height="7.70" fill="#fff" stroke="#c6c6c6" stroke-width="0.8"/>
<text transform="translate(381.48,349.00) rotate(-90)" font-size="10.85" font-weight="bold" text-anchor="end" fill="#000" stroke="#000" stroke-width="0.22">HCC44</text>
<rect x="372.70" y="423.20" width="8.20" height="8.10" fill="#fd8613" stroke="#c9c9c9" stroke-width="0.4"/>
<rect x="372.80" y="442.20" width="8.00" height="7.80" fill="#000"/>
<rect x="372.80" y="453.70" width="8.00" height="7.80" fill="#000"/>
<rect x="372.95" y="465.20" width="7.70" height="7.70" fill="#fff" stroke="#c6c6c6" stroke-width="0.8"/>
<rect x="372.95" y="476.60" width="7.70" height="7.70" fill="#fff" stroke="#c6c6c6" stroke-width="0.8"/>
<rect x="372.95" y="488.10" width="7.70" height="7.70" fill="#fff" stroke="#c6c6c6" stroke-width="0.8"/>
<text transform="translate(393.14,349.00) rotate(-90)" font-size="10.85" font-weight="bold" text-anchor="end" fill="#000" stroke="#000" stroke-width="0.22">HT-29</text>
<rect x="384.36" y="423.20" width="8.20" height="8.10" fill="#a514e6" stroke="#c9c9c9" stroke-width="0.4"/>
<rect x="384.61" y="442.30" width="7.70" height="7.70" fill="#fff" stroke="#c6c6c6" stroke-width="0.8"/>
<rect x="384.46" y="453.70" width="8.00" height="7.80" fill="#000"/>
<rect x="384.61" y="465.20" width="7.70" height="7.70" fill="#fff" stroke="#c6c6c6" stroke-width="0.8"/>
<rect x="384.61" y="476.60" width="7.70" height="7.70" fill="#fff" stroke="#c6c6c6" stroke-width="0.8"/>
<rect x="384.46" y="488.00" width="8.00" height="7.80" fill="#000"/>
<text transform="translate(404.80,349.00) rotate(-90)" font-size="10.85" font-weight="bold" text-anchor="end" fill="#000" stroke="#000" stroke-width="0.22">SK-OV-3</text>
<rect x="396.02" y="423.20" width="8.20" height="8.10" fill="#0b0bc4" stroke="#c9c9c9" stroke-width="0.4"/>
<rect x="396.27" y="442.30" width="7.70" height="7.70" fill="#fff" stroke="#c6c6c6" stroke-width="0.8"/>
<rect x="396.12" y="453.70" width="8.00" height="7.80" fill="#000"/>
<rect x="396.27" y="465.20" width="7.70" height="7.70" fill="#fff" stroke="#c6c6c6" stroke-width="0.8"/>
<rect x="396.27" y="476.60" width="7.70" height="7.70" fill="#fff" stroke="#c6c6c6" stroke-width="0.8"/>
<rect x="396.12" y="488.00" width="8.00" height="7.80" fill="#000"/>
<text transform="translate(416.46,349.00) rotate(-90)" font-size="10.85" font-weight="bold" text-anchor="end" fill="#000" stroke="#000" stroke-width="0.22">SW480</text>
<rect x="407.68" y="423.20" width="8.20" height="8.10" fill="#a514e6" stroke="#c9c9c9" stroke-width="0.4"/>
<rect x="407.78" y="442.20" width="8.00" height="7.80" fill="#000"/>
<rect x="407.78" y="453.70" width="8.00" height="7.80" fill="#000"/>
<rect x="407.93" y="465.20" width="7.70" height="7.70" fill="#fff" stroke="#c6c6c6" stroke-width="0.8"/>
<rect x="407.93" y="476.60" width="7.70" height="7.70" fill="#fff" stroke="#c6c6c6" stroke-width="0.8"/>
<rect x="407.93" y="488.10" width="7.70" height="7.70" fill="#fff" stroke="#c6c6c6" stroke-width="0.8"/>
<text transform="translate(428.12,349.00) rotate(-90)" font-size="10.85" font-weight="bold" text-anchor="end" fill="#000" stroke="#000" stroke-width="0.22">NCI-H358</text>
<rect x="419.34" y="423.20" width="8.20" height="8.10" fill="#fd8613" stroke="#c9c9c9" stroke-width="0.4"/>
<rect x="419.44" y="442.20" width="8.00" height="7.80" fill="#000"/>
<rect x="419.44" y="453.70" width="8.00" height="7.80" fill="#000"/>
<rect x="419.59" y="465.20" width="7.70" height="7.70" fill="#fff" stroke="#c6c6c6" stroke-width="0.8"/>
<rect x="419.59" y="476.60" width="7.70" height="7.70" fill="#fff" stroke="#c6c6c6" stroke-width="0.8"/>
<rect x="419.59" y="488.10" width="7.70" height="7.70" fill="#fff" stroke="#c6c6c6" stroke-width="0.8"/>
<text transform="translate(439.78,349.00) rotate(-90)" font-size="10.85" font-weight="bold" text-anchor="end" fill="#000" stroke="#000" stroke-width="0.22">BxPC-3</text>
<rect x="431.00" y="423.20" width="8.20" height="8.10" fill="#70ad47" stroke="#c9c9c9" stroke-width="0.4"/>
<rect x="431.10" y="442.20" width="8.00" height="7.80" fill="#000"/>
<rect x="431.10" y="453.70" width="8.00" height="7.80" fill="#000"/>
<rect x="431.10" y="465.10" width="8.00" height="7.80" fill="#000"/>
<rect x="431.25" y="476.60" width="7.70" height="7.70" fill="#fff" stroke="#c6c6c6" stroke-width="0.8"/>
<rect x="431.25" y="488.10" width="7.70" height="7.70" fill="#fff" stroke="#c6c6c6" stroke-width="0.8"/>
<text transform="translate(451.44,349.00) rotate(-90)" font-size="10.85" font-weight="bold" text-anchor="end" fill="#000" stroke="#000" stroke-width="0.22">HCC15</text>
<rect x="442.66" y="423.20" width="8.20" height="8.10" fill="#fd8613" stroke="#c9c9c9" stroke-width="0.4"/>
<rect x="442.91" y="442.30" width="7.70" height="7.70" fill="#fff" stroke="#c6c6c6" stroke-width="0.8"/>
<rect x="442.76" y="453.70" width="8.00" height="7.80" fill="#000"/>
<rect x="442.91" y="465.20" width="7.70" height="7.70" fill="#fff" stroke="#c6c6c6" stroke-width="0.8"/>
<rect x="442.91" y="476.60" width="7.70" height="7.70" fill="#fff" stroke="#c6c6c6" stroke-width="0.8"/>
<rect x="442.91" y="488.10" width="7.70" height="7.70" fill="#fff" stroke="#c6c6c6" stroke-width="0.8"/>
<text transform="translate(463.10,349.00) rotate(-90)" font-size="10.85" font-weight="bold" text-anchor="end" fill="#000" stroke="#000" stroke-width="0.22">Capan-2</text>
<rect x="454.32" y="423.20" width="8.20" height="8.10" fill="#70ad47" stroke="#c9c9c9" stroke-width="0.4"/>
<rect x="454.42" y="442.20" width="8.00" height="7.80" fill="#000"/>
<rect x="454.42" y="453.70" width="8.00" height="7.80" fill="#000"/>
<rect x="454.42" y="465.10" width="8.00" height="7.80" fill="#000"/>
<rect x="454.57" y="476.60" width="7.70" height="7.70" fill="#fff" stroke="#c6c6c6" stroke-width="0.8"/>
<rect x="454.57" y="488.10" width="7.70" height="7.70" fill="#fff" stroke="#c6c6c6" stroke-width="0.8"/>
<text transform="translate(474.76,349.00) rotate(-90)" font-size="10.85" font-weight="bold" text-anchor="end" fill="#000" stroke="#000" stroke-width="0.22">BT-20</text>
<rect x="465.98" y="423.20" width="8.20" height="8.10" fill="#fb0007" stroke="#c9c9c9" stroke-width="0.4"/>
<rect x="466.23" y="442.30" width="7.70" height="7.70" fill="#fff" stroke="#c6c6c6" stroke-width="0.8"/>
<rect x="466.08" y="453.70" width="8.00" height="7.80" fill="#000"/>
<rect x="466.08" y="465.10" width="8.00" height="7.80" fill="#000"/>
<rect x="466.23" y="476.60" width="7.70" height="7.70" fill="#fff" stroke="#c6c6c6" stroke-width="0.8"/>
<rect x="466.08" y="488.00" width="8.00" height="7.80" fill="#000"/>
<text transform="translate(486.42,349.00) rotate(-90)" font-size="10.85" font-weight="bold" text-anchor="end" fill="#000" stroke="#000" stroke-width="0.22">OVCAR3</text>
<rect x="477.64" y="423.20" width="8.20" height="8.10" fill="#0b0bc4" stroke="#c9c9c9" stroke-width="0.4"/>
<rect x="477.89" y="442.30" width="7.70" height="7.70" fill="#fff" stroke="#c6c6c6" stroke-width="0.8"/>
<rect x="477.74" y="453.70" width="8.00" height="7.80" fill="#000"/>
<rect x="477.89" y="465.20" width="7.70" height="7.70" fill="#fff" stroke="#c6c6c6" stroke-width="0.8"/>
<rect x="477.89" y="476.60" width="7.70" height="7.70" fill="#fff" stroke="#c6c6c6" stroke-width="0.8"/>
<rect x="477.74" y="488.00" width="8.00" height="7.80" fill="#000"/>
<text transform="translate(498.08,349.00) rotate(-90)" font-size="10.85" font-weight="bold" text-anchor="end" fill="#000" stroke="#000" stroke-width="0.22">SNB-19</text>
<rect x="489.30" y="423.20" width="8.20" height="8.10" fill="#9c6b25" stroke="#c9c9c9" stroke-width="0.4"/>
<rect x="489.55" y="442.30" width="7.70" height="7.70" fill="#fff" stroke="#c6c6c6" stroke-width="0.8"/>
<rect x="489.40" y="453.70" width="8.00" height="7.80" fill="#000"/>
<rect x="489.55" y="465.20" width="7.70" height="7.70" fill="#fff" stroke="#c6c6c6" stroke-width="0.8"/>
<rect x="489.55" y="476.60" width="7.70" height="7.70" fill="#fff" stroke="#c6c6c6" stroke-width="0.8"/>
<rect x="489.55" y="488.10" width="7.70" height="7.70" fill="#fff" stroke="#c6c6c6" stroke-width="0.8"/>
<text transform="translate(509.74,349.00) rotate(-90)" font-size="10.85" font-weight="bold" text-anchor="end" fill="#000" stroke="#000" stroke-width="0.22">U-343 MG</text>
<rect x="500.96" y="423.20" width="8.20" height="8.10" fill="#9c6b25" stroke="#c9c9c9" stroke-width="0.4"/>
<rect x="501.21" y="442.30" width="7.70" height="7.70" fill="#fff" stroke="#c6c6c6" stroke-width="0.8"/>
<rect x="501.06" y="453.70" width="8.00" height="7.80" fill="#000"/>
<rect x="501.21" y="465.20" width="7.70" height="7.70" fill="#fff" stroke="#c6c6c6" stroke-width="0.8"/>
<rect x="501.21" y="476.60" width="7.70" height="7.70" fill="#fff" stroke="#c6c6c6" stroke-width="0.8"/>
<rect x="501.21" y="488.10" width="7.70" height="7.70" fill="#fff" stroke="#c6c6c6" stroke-width="0.8"/>
<text transform="translate(521.40,349.00) rotate(-90)" font-size="10.85" font-weight="bold" text-anchor="end" fill="#000" stroke="#000" stroke-width="0.22">HPAF-II</text>
<rect x="512.62" y="423.20" width="8.20" height="8.10" fill="#70ad47" stroke="#c9c9c9" stroke-width="0.4"/>
<rect x="512.72" y="442.20" width="8.00" height="7.80" fill="#000"/>
<rect x="512.72" y="453.70" width="8.00" height="7.80" fill="#000"/>
<rect x="512.72" y="465.10" width="8.00" height="7.80" fill="#000"/>
<rect x="512.87" y="476.60" width="7.70" height="7.70" fill="#fff" stroke="#c6c6c6" stroke-width="0.8"/>
<rect x="512.87" y="488.10" width="7.70" height="7.70" fill="#fff" stroke="#c6c6c6" stroke-width="0.8"/>
<text transform="translate(533.06,349.00) rotate(-90)" font-size="10.85" font-weight="bold" text-anchor="end" fill="#000" stroke="#000" stroke-width="0.22">NCI-H226</text>
<rect x="524.28" y="423.20" width="8.20" height="8.10" fill="#fd8613" stroke="#c9c9c9" stroke-width="0.4"/>
<rect x="524.53" y="442.30" width="7.70" height="7.70" fill="#fff" stroke="#c6c6c6" stroke-width="0.8"/>
<rect x="524.38" y="453.70" width="8.00" height="7.80" fill="#000"/>
<rect x="524.38" y="465.10" width="8.00" height="7.80" fill="#000"/>
<rect x="524.53" y="476.60" width="7.70" height="7.70" fill="#fff" stroke="#c6c6c6" stroke-width="0.8"/>
<rect x="524.53" y="488.10" width="7.70" height="7.70" fill="#fff" stroke="#c6c6c6" stroke-width="0.8"/>
<text transform="translate(544.72,349.00) rotate(-90)" font-size="10.85" font-weight="bold" text-anchor="end" fill="#000" stroke="#000" stroke-width="0.22">SW620</text>
<rect x="535.94" y="423.20" width="8.20" height="8.10" fill="#a514e6" stroke="#c9c9c9" stroke-width="0.4"/>
<rect x="536.04" y="442.20" width="8.00" height="7.80" fill="#000"/>
<rect x="536.04" y="453.70" width="8.00" height="7.80" fill="#000"/>
<rect x="536.19" y="465.20" width="7.70" height="7.70" fill="#fff" stroke="#c6c6c6" stroke-width="0.8"/>
<rect x="536.19" y="476.60" width="7.70" height="7.70" fill="#fff" stroke="#c6c6c6" stroke-width="0.8"/>
<rect x="536.19" y="488.10" width="7.70" height="7.70" fill="#fff" stroke="#c6c6c6" stroke-width="0.8"/>
<text transform="translate(556.38,349.00) rotate(-90)" font-size="10.85" font-weight="bold" text-anchor="end" fill="#000" stroke="#000" stroke-width="0.22">NCI-H596</text>
<rect x="547.60" y="423.20" width="8.20" height="8.10" fill="#fd8613" stroke="#c9c9c9" stroke-width="0.4"/>
<rect x="547.85" y="442.30" width="7.70" height="7.70" fill="#fff" stroke="#c6c6c6" stroke-width="0.8"/>
<rect x="547.70" y="453.70" width="8.00" height="7.80" fill="#000"/>
<rect x="547.85" y="465.20" width="7.70" height="7.70" fill="#fff" stroke="#c6c6c6" stroke-width="0.8"/>
<rect x="547.85" y="476.60" width="7.70" height="7.70" fill="#fff" stroke="#c6c6c6" stroke-width="0.8"/>
<rect x="547.70" y="488.00" width="8.00" height="7.80" fill="#000"/>
<text transform="translate(568.04,349.00) rotate(-90)" font-size="10.85" font-weight="bold" text-anchor="end" fill="#000" stroke="#000" stroke-width="0.22">LS1034</text>
<rect x="559.26" y="423.20" width="8.20" height="8.10" fill="#a514e6" stroke="#c9c9c9" stroke-width="0.4"/>
<rect x="559.36" y="442.20" width="8.00" height="7.80" fill="#000"/>
<rect x="559.36" y="453.70" width="8.00" height="7.80" fill="#000"/>
<rect x="559.51" y="465.20" width="7.70" height="7.70" fill="#fff" stroke="#c6c6c6" stroke-width="0.8"/>
<rect x="559.51" y="476.60" width="7.70" height="7.70" fill="#fff" stroke="#c6c6c6" stroke-width="0.8"/>
<rect x="559.51" y="488.10" width="7.70" height="7.70" fill="#fff" stroke="#c6c6c6" stroke-width="0.8"/>
<text transform="translate(579.70,349.00) rotate(-90)" font-size="10.85" font-weight="bold" text-anchor="end" fill="#000" stroke="#000" stroke-width="0.22">MIA PaCa-2</text>
<rect x="570.92" y="423.20" width="8.20" height="8.10" fill="#70ad47" stroke="#c9c9c9" stroke-width="0.4"/>
<rect x="571.02" y="442.20" width="8.00" height="7.80" fill="#000"/>
<rect x="571.02" y="453.70" width="8.00" height="7.80" fill="#000"/>
<rect x="571.02" y="465.10" width="8.00" height="7.80" fill="#000"/>
<rect x="571.17" y="476.60" width="7.70" height="7.70" fill="#fff" stroke="#c6c6c6" stroke-width="0.8"/>
<rect x="571.17" y="488.10" width="7.70" height="7.70" fill="#fff" stroke="#c6c6c6" stroke-width="0.8"/>
<text transform="translate(591.36,349.00) rotate(-90)" font-size="10.85" font-weight="bold" text-anchor="end" fill="#000" stroke="#000" stroke-width="0.22">CDI-H460</text>
<rect x="582.58" y="423.20" width="8.20" height="8.10" fill="#fd8613" stroke="#c9c9c9" stroke-width="0.4"/>
<rect x="582.68" y="442.20" width="8.00" height="7.80" fill="#000"/>
<rect x="582.68" y="453.70" width="8.00" height="7.80" fill="#000"/>
<rect x="582.83" y="465.20" width="7.70" height="7.70" fill="#fff" stroke="#c6c6c6" stroke-width="0.8"/>
<rect x="582.83" y="476.60" width="7.70" height="7.70" fill="#fff" stroke="#c6c6c6" stroke-width="0.8"/>
<rect x="582.68" y="488.00" width="8.00" height="7.80" fill="#000"/>
<text transform="translate(603.02,349.00) rotate(-90)" font-size="10.85" font-weight="bold" text-anchor="end" fill="#000" stroke="#000" stroke-width="0.22">HCT 116</text>
<rect x="594.24" y="423.20" width="8.20" height="8.10" fill="#a514e6" stroke="#c9c9c9" stroke-width="0.4"/>
<rect x="594.34" y="442.20" width="8.00" height="7.80" fill="#000"/>
<rect x="594.34" y="453.70" width="8.00" height="7.80" fill="#000"/>
<rect x="594.34" y="465.10" width="8.00" height="7.80" fill="#000"/>
<rect x="594.49" y="476.60" width="7.70" height="7.70" fill="#fff" stroke="#c6c6c6" stroke-width="0.8"/>
<rect x="594.34" y="488.00" width="8.00" height="7.80" fill="#000"/>
<text transform="translate(614.68,349.00) rotate(-90)" font-size="10.85" font-weight="bold" text-anchor="end" fill="#000" stroke="#000" stroke-width="0.22">NCI-H508</text>
<rect x="605.90" y="423.20" width="8.20" height="8.10" fill="#a514e6" stroke="#c9c9c9" stroke-width="0.4"/>
<rect x="606.15" y="442.30" width="7.70" height="7.70" fill="#fff" stroke="#c6c6c6" stroke-width="0.8"/>
<rect x="606.00" y="453.70" width="8.00" height="7.80" fill="#000"/>
<rect x="606.15" y="465.20" width="7.70" height="7.70" fill="#fff" stroke="#c6c6c6" stroke-width="0.8"/>
<rect x="606.15" y="476.60" width="7.70" height="7.70" fill="#fff" stroke="#c6c6c6" stroke-width="0.8"/>
<rect x="606.00" y="488.00" width="8.00" height="7.80" fill="#000"/>
<text transform="translate(626.34,349.00) rotate(-90)" font-size="10.85" font-weight="bold" text-anchor="end" fill="#000" stroke="#000" stroke-width="0.22">NCI-H1299</text>
<rect x="617.56" y="423.20" width="8.20" height="8.10" fill="#fd8613" stroke="#c9c9c9" stroke-width="0.4"/>
<rect x="617.81" y="442.30" width="7.70" height="7.70" fill="#fff" stroke="#c6c6c6" stroke-width="0.8"/>
<rect x="617.66" y="453.70" width="8.00" height="7.80" fill="#000"/>
<rect x="617.81" y="465.20" width="7.70" height="7.70" fill="#fff" stroke="#c6c6c6" stroke-width="0.8"/>
<rect x="617.81" y="476.60" width="7.70" height="7.70" fill="#fff" stroke="#c6c6c6" stroke-width="0.8"/>
<rect x="617.81" y="488.10" width="7.70" height="7.70" fill="#fff" stroke="#c6c6c6" stroke-width="0.8"/>
<text transform="translate(638.00,349.00) rotate(-90)" font-size="10.85" font-weight="bold" text-anchor="end" fill="#000" stroke="#000" stroke-width="0.22">LS 174T</text>
<rect x="629.22" y="423.20" width="8.20" height="8.10" fill="#a514e6" stroke="#c9c9c9" stroke-width="0.4"/>
<rect x="629.32" y="442.20" width="8.00" height="7.80" fill="#000"/>
<rect x="629.32" y="453.70" width="8.00" height="7.80" fill="#000"/>
<rect x="629.47" y="465.20" width="7.70" height="7.70" fill="#fff" stroke="#c6c6c6" stroke-width="0.8"/>
<rect x="629.47" y="476.60" width="7.70" height="7.70" fill="#fff" stroke="#c6c6c6" stroke-width="0.8"/>
<rect x="629.32" y="488.00" width="8.00" height="7.80" fill="#000"/>
<text transform="translate(649.66,349.00) rotate(-90)" font-size="10.85" font-weight="bold" text-anchor="end" fill="#000" stroke="#000" stroke-width="0.22">Panc-1</text>
<rect x="640.88" y="423.20" width="8.20" height="8.10" fill="#70ad47" stroke="#c9c9c9" stroke-width="0.4"/>
<rect x="640.98" y="442.20" width="8.00" height="7.80" fill="#000"/>
<rect x="640.98" y="453.70" width="8.00" height="7.80" fill="#000"/>
<rect x="640.98" y="465.10" width="8.00" height="7.80" fill="#000"/>
<rect x="641.13" y="476.60" width="7.70" height="7.70" fill="#fff" stroke="#c6c6c6" stroke-width="0.8"/>
<rect x="641.13" y="488.10" width="7.70" height="7.70" fill="#fff" stroke="#c6c6c6" stroke-width="0.8"/>
<text transform="translate(661.32,349.00) rotate(-90)" font-size="10.85" font-weight="bold" text-anchor="end" fill="#000" stroke="#000" stroke-width="0.22">COLO 205</text>
<rect x="652.54" y="423.20" width="8.20" height="8.10" fill="#a514e6" stroke="#c9c9c9" stroke-width="0.4"/>
<rect x="652.79" y="442.30" width="7.70" height="7.70" fill="#fff" stroke="#c6c6c6" stroke-width="0.8"/>
<rect x="652.64" y="453.70" width="8.00" height="7.80" fill="#000"/>
<rect x="652.79" y="465.20" width="7.70" height="7.70" fill="#fff" stroke="#c6c6c6" stroke-width="0.8"/>
<rect x="652.79" y="476.60" width="7.70" height="7.70" fill="#fff" stroke="#c6c6c6" stroke-width="0.8"/>
<rect x="652.79" y="488.10" width="7.70" height="7.70" fill="#fff" stroke="#c6c6c6" stroke-width="0.8"/>
</g>
<g id="panelC">
<text x="5.10" y="521.80" font-size="16.5" font-weight="bold" text-anchor="start" fill="#000">C</text>
<circle cx="63.10" cy="522.00" r="2.2" fill="#9c6b25"/>
<text x="85.00" y="524.90" font-size="8.1" text-anchor="start" fill="#000" stroke="#000" stroke-width="0.16">Brain</text>
<circle cx="63.10" cy="535.20" r="2.2" fill="#fb0d1b"/>
<text x="85.00" y="538.10" font-size="8.1" text-anchor="start" fill="#000" stroke="#000" stroke-width="0.16">Breast</text>
<circle cx="63.10" cy="548.40" r="2.2" fill="#0b0bd0"/>
<text x="85.00" y="551.30" font-size="8.1" text-anchor="start" fill="#000" stroke="#000" stroke-width="0.16">Ovary</text>
<circle cx="139.70" cy="522.00" r="2.2" fill="#fd8613"/>
<text x="161.20" y="524.90" font-size="8.1" text-anchor="start" fill="#000" stroke="#000" stroke-width="0.16">Lung</text>
<circle cx="139.70" cy="535.20" r="2.2" fill="#b01cf0"/>
<text x="161.20" y="538.10" font-size="8.1" text-anchor="start" fill="#000" stroke="#000" stroke-width="0.16">Colon</text>
<circle cx="139.70" cy="548.40" r="2.2" fill="#0fcf1f"/>
<text x="161.20" y="551.30" font-size="8.1" text-anchor="start" fill="#000" stroke="#000" stroke-width="0.16">Pancreas</text>
<line x1="73.30" y1="593.10" x2="164.50" y2="659.30" stroke="#000" stroke-width="2.3" stroke-linecap="butt"/>
<circle cx="73.07" cy="576.54" r="2.3" fill="#fb0d1b"/>
<circle cx="80.96" cy="583.38" r="2.3" fill="#0b0bd0"/>
<circle cx="77.28" cy="589.16" r="2.3" fill="#0b0bd0"/>
<circle cx="107.23" cy="569.19" r="2.3" fill="#9c6b25"/>
<circle cx="89.10" cy="583.38" r="2.3" fill="#9c6b25"/>
<circle cx="80.96" cy="595.46" r="2.3" fill="#fd8613"/>
<circle cx="93.04" cy="595.46" r="2.3" fill="#0fcf1f"/>
<circle cx="106.18" cy="597.56" r="2.3" fill="#9c6b25"/>
<circle cx="87.79" cy="602.82" r="2.3" fill="#fd8613"/>
<circle cx="91.47" cy="604.40" r="2.3" fill="#0fcf1f"/>
<circle cx="95.67" cy="603.87" r="2.3" fill="#9c6b25"/>
<circle cx="112.75" cy="602.29" r="2.3" fill="#fd8613"/>
<circle cx="117.21" cy="604.40" r="2.3" fill="#b01cf0"/>
<circle cx="92.78" cy="612.28" r="2.3" fill="#b01cf0"/>
<circle cx="79.12" cy="626.99" r="2.3" fill="#fd8613"/>
<circle cx="127.99" cy="610.70" r="2.3" fill="#0b0bd0"/>
<circle cx="135.08" cy="611.75" r="2.3" fill="#fd8613"/>
<circle cx="121.42" cy="610.70" r="2.3" fill="#fb0d1b"/>
<circle cx="119.05" cy="611.75" r="2.3" fill="#9c6b25"/>
<circle cx="98.82" cy="619.11" r="2.3" fill="#0fcf1f"/>
<circle cx="101.45" cy="617.01" r="2.3" fill="#0fcf1f"/>
<circle cx="98.03" cy="622.26" r="2.3" fill="#0fcf1f"/>
<circle cx="104.08" cy="618.06" r="2.3" fill="#b01cf0"/>
<circle cx="104.60" cy="620.69" r="2.3" fill="#b01cf0"/>
<circle cx="109.86" cy="623.84" r="2.3" fill="#fd8613"/>
<circle cx="109.33" cy="620.69" r="2.3" fill="#0b0bd0"/>
<circle cx="120.63" cy="618.85" r="2.3" fill="#fb0d1b"/>
<circle cx="122.47" cy="620.69" r="2.3" fill="#fb0d1b"/>
<circle cx="110.65" cy="628.04" r="2.3" fill="#fd8613"/>
<circle cx="109.33" cy="629.88" r="2.3" fill="#0fcf1f"/>
<circle cx="110.65" cy="638.03" r="2.3" fill="#fd8613"/>
<circle cx="125.10" cy="637.50" r="2.3" fill="#fb0d1b"/>
<circle cx="129.83" cy="638.03" r="2.3" fill="#9c6b25"/>
<circle cx="132.45" cy="639.60" r="2.3" fill="#9c6b25"/>
<circle cx="137.45" cy="638.03" r="2.3" fill="#0b0bd0"/>
<circle cx="140.86" cy="641.71" r="2.3" fill="#0fcf1f"/>
<circle cx="148.74" cy="643.54" r="2.3" fill="#b01cf0"/>
<circle cx="154.00" cy="648.01" r="2.3" fill="#b01cf0"/>
<circle cx="165.03" cy="649.59" r="2.3" fill="#b01cf0"/>
<circle cx="109.33" cy="644.86" r="2.3" fill="#0fcf1f"/>
<circle cx="112.49" cy="644.86" r="2.3" fill="#fd8613"/>
<circle cx="111.17" cy="653.00" r="2.3" fill="#0fcf1f"/>
<circle cx="120.63" cy="647.49" r="2.3" fill="#b01cf0"/>
<circle cx="119.32" cy="650.38" r="2.3" fill="#fd8613"/>
<circle cx="137.45" cy="648.27" r="2.3" fill="#fd8613"/>
<circle cx="138.23" cy="649.59" r="2.3" fill="#b01cf0"/>
<circle cx="140.86" cy="649.59" r="2.3" fill="#fd8613"/>
<line x1="62.80" y1="562.70" x2="62.80" y2="681.10" stroke="#000" stroke-width="1.8"/>
<line x1="61.90" y1="680.20" x2="180.10" y2="680.20" stroke="#000" stroke-width="1.8"/>
<line x1="57.20" y1="680.20" x2="62.80" y2="680.20" stroke="#000" stroke-width="1.5"/>
<text x="54.80" y="682.60" font-size="6.7" text-anchor="end" fill="#000" stroke="#000" stroke-width="0.16">0</text>
<line x1="57.20" y1="641.30" x2="62.80" y2="641.30" stroke="#000" stroke-width="1.5"/>
<text x="54.80" y="643.70" font-size="6.7" text-anchor="end" fill="#000" stroke="#000" stroke-width="0.16">50</text>
<line x1="57.20" y1="602.40" x2="62.80" y2="602.40" stroke="#000" stroke-width="1.5"/>
<text x="54.80" y="604.80" font-size="6.7" text-anchor="end" fill="#000" stroke="#000" stroke-width="0.16">100</text>
<line x1="57.20" y1="563.50" x2="62.80" y2="563.50" stroke="#000" stroke-width="1.5"/>
<text x="54.80" y="565.90" font-size="6.7" text-anchor="end" fill="#000" stroke="#000" stroke-width="0.16">150</text>
<line x1="62.80" y1="680.20" x2="62.80" y2="685.40" stroke="#000" stroke-width="1.5"/>
<text x="62.80" y="695.50" font-size="6.7" text-anchor="middle" fill="#000" stroke="#000" stroke-width="0.16">0.0</text>
<line x1="92.00" y1="680.20" x2="92.00" y2="685.40" stroke="#000" stroke-width="1.5"/>
<text x="92.00" y="695.50" font-size="6.7" text-anchor="middle" fill="#000" stroke="#000" stroke-width="0.16">0.1</text>
<line x1="121.20" y1="680.20" x2="121.20" y2="685.40" stroke="#000" stroke-width="1.5"/>
<text x="121.20" y="695.50" font-size="6.7" text-anchor="middle" fill="#000" stroke="#000" stroke-width="0.16">0.2</text>
<line x1="150.40" y1="680.20" x2="150.40" y2="685.40" stroke="#000" stroke-width="1.5"/>
<text x="150.40" y="695.50" font-size="6.7" text-anchor="middle" fill="#000" stroke="#000" stroke-width="0.16">0.3</text>
<line x1="179.60" y1="680.20" x2="179.60" y2="685.40" stroke="#000" stroke-width="1.5"/>
<text x="179.60" y="695.50" font-size="6.7" text-anchor="middle" fill="#000" stroke="#000" stroke-width="0.16">0.4</text>
<text transform="translate(38.60,622.60) rotate(-90)" font-size="10.9" font-weight="bold" stroke="#000" stroke-width="0.22" text-anchor="middle">iMQT_020 Efficacy</text>
<text x="121.20" y="709.90" font-size="11.0" font-weight="bold" text-anchor="middle" fill="#000" stroke="#000" stroke-width="0.22">SLC1A5_var Expression</text>
<text x="125.90" y="572.90" font-size="8.2" text-anchor="start" fill="#000" stroke="#000" stroke-width="0.16">n = 50</text>
<text x="125.90" y="583.40" font-size="8.2" text-anchor="start" fill="#000" stroke="#000" stroke-width="0.16">Pearson r = -0.6881</text>
<text x="125.90" y="593.10" font-size="8.2" text-anchor="start" fill="#000" stroke="#000" stroke-width="0.16">P-value 1.1x10<tspan font-size="5.6" dy="-2.6">-8</tspan><tspan font-size="5.4" dy="0"> ****</tspan></text>
</g>
<g id="panelD">
<text x="225.80" y="521.80" font-size="16.5" font-weight="bold" text-anchor="start" fill="#000">D</text>
<circle cx="294.10" cy="522.00" r="2.2" fill="#9c6b25"/>
<text x="315.80" y="524.90" font-size="8.1" text-anchor="start" fill="#000" stroke="#000" stroke-width="0.16">Brain</text>
<circle cx="294.10" cy="535.20" r="2.2" fill="#fb0d1b"/>
<text x="315.80" y="538.10" font-size="8.1" text-anchor="start" fill="#000" stroke="#000" stroke-width="0.16">Breast</text>
<circle cx="294.10" cy="548.40" r="2.2" fill="#0b0bd0"/>
<text x="315.80" y="551.30" font-size="8.1" text-anchor="start" fill="#000" stroke="#000" stroke-width="0.16">Ovary</text>
<circle cx="370.50" cy="522.00" r="2.2" fill="#fd8613"/>
<text x="392.00" y="524.90" font-size="8.1" text-anchor="start" fill="#000" stroke="#000" stroke-width="0.16">Lung</text>
<circle cx="370.50" cy="535.20" r="2.2" fill="#b01cf0"/>
<text x="392.00" y="538.10" font-size="8.1" text-anchor="start" fill="#000" stroke="#000" stroke-width="0.16">Colon</text>
<circle cx="370.50" cy="548.40" r="2.2" fill="#0fcf1f"/>
<text x="392.00" y="551.30" font-size="8.1" text-anchor="start" fill="#000" stroke="#000" stroke-width="0.16">Pancreas</text>
<line x1="304.40" y1="611.20" x2="395.30" y2="629.10" stroke="#000" stroke-width="2.3" stroke-linecap="butt"/>
<circle cx="310.17" cy="593.36" r="2.3" fill="#fd8613"/>
<circle cx="328.82" cy="585.22" r="2.3" fill="#0fcf1f"/>
<circle cx="343.80" cy="588.63" r="2.3" fill="#fd8613"/>
<circle cx="355.89" cy="587.32" r="2.3" fill="#fb0d1b"/>
<circle cx="363.50" cy="586.79" r="2.3" fill="#9c6b25"/>
<circle cx="331.71" cy="594.41" r="2.3" fill="#0fcf1f"/>
<circle cx="322.78" cy="597.56" r="2.3" fill="#0fcf1f"/>
<circle cx="340.12" cy="597.56" r="2.3" fill="#0b0bd0"/>
<circle cx="323.83" cy="603.08" r="2.3" fill="#0fcf1f"/>
<circle cx="359.04" cy="604.92" r="2.3" fill="#0b0bd0"/>
<circle cx="312.01" cy="608.86" r="2.3" fill="#0b0bd0"/>
<circle cx="318.84" cy="609.39" r="2.3" fill="#fd8613"/>
<circle cx="326.72" cy="609.65" r="2.3" fill="#9c6b25"/>
<circle cx="337.23" cy="608.07" r="2.3" fill="#9c6b25"/>
<circle cx="341.43" cy="607.29" r="2.3" fill="#fd8613"/>
<circle cx="348.00" cy="607.55" r="2.3" fill="#b01cf0"/>
<circle cx="349.84" cy="608.86" r="2.3" fill="#9c6b25"/>
<circle cx="366.40" cy="608.07" r="2.3" fill="#fd8613"/>
<circle cx="379.53" cy="610.96" r="2.3" fill="#b01cf0"/>
<circle cx="335.13" cy="611.49" r="2.3" fill="#b01cf0"/>
<circle cx="343.27" cy="612.54" r="2.3" fill="#fd8613"/>
<circle cx="341.70" cy="614.12" r="2.3" fill="#0fcf1f"/>
<circle cx="349.84" cy="614.38" r="2.3" fill="#fd8613"/>
<circle cx="353.26" cy="616.48" r="2.3" fill="#fb0d1b"/>
<circle cx="322.52" cy="615.96" r="2.3" fill="#0fcf1f"/>
<circle cx="312.01" cy="621.47" r="2.3" fill="#fd8613"/>
<circle cx="323.83" cy="621.74" r="2.3" fill="#b01cf0"/>
<circle cx="308.33" cy="624.63" r="2.3" fill="#0b0bd0"/>
<circle cx="303.86" cy="627.78" r="2.3" fill="#fb0d1b"/>
<circle cx="335.13" cy="624.63" r="2.3" fill="#b01cf0"/>
<circle cx="328.82" cy="626.73" r="2.3" fill="#0fcf1f"/>
<circle cx="351.94" cy="626.73" r="2.3" fill="#fb0d1b"/>
<circle cx="368.50" cy="622.79" r="2.3" fill="#fd8613"/>
<circle cx="371.39" cy="625.68" r="2.3" fill="#0fcf1f"/>
<circle cx="395.82" cy="626.99" r="2.3" fill="#b01cf0"/>
<circle cx="351.42" cy="630.67" r="2.3" fill="#b01cf0"/>
<circle cx="360.61" cy="632.51" r="2.3" fill="#9c6b25"/>
<circle cx="340.12" cy="635.40" r="2.3" fill="#fd8613"/>
<circle cx="332.50" cy="638.03" r="2.3" fill="#0fcf1f"/>
<circle cx="350.11" cy="640.92" r="2.3" fill="#b01cf0"/>
<circle cx="341.43" cy="643.02" r="2.3" fill="#fd8613"/>
<circle cx="368.76" cy="639.60" r="2.3" fill="#b01cf0"/>
<circle cx="368.23" cy="643.54" r="2.3" fill="#0b0bd0"/>
<circle cx="384.52" cy="643.54" r="2.3" fill="#b01cf0"/>
<circle cx="371.91" cy="658.52" r="2.3" fill="#fd8613"/>
<circle cx="319.89" cy="661.94" r="2.3" fill="#9c6b25"/>
<circle cx="338.02" cy="661.94" r="2.3" fill="#9c6b25"/>
<circle cx="352.21" cy="661.94" r="2.3" fill="#fb0d1b"/>
<line x1="293.60" y1="562.70" x2="293.60" y2="681.10" stroke="#000" stroke-width="1.8"/>
<line x1="292.70" y1="680.20" x2="410.90" y2="680.20" stroke="#000" stroke-width="1.8"/>
<line x1="288.00" y1="680.20" x2="293.60" y2="680.20" stroke="#000" stroke-width="1.5"/>
<text x="285.60" y="682.60" font-size="6.7" text-anchor="end" fill="#000" stroke="#000" stroke-width="0.16">0</text>
<line x1="288.00" y1="641.30" x2="293.60" y2="641.30" stroke="#000" stroke-width="1.5"/>
<text x="285.60" y="643.70" font-size="6.7" text-anchor="end" fill="#000" stroke="#000" stroke-width="0.16">50</text>
<line x1="288.00" y1="602.40" x2="293.60" y2="602.40" stroke="#000" stroke-width="1.5"/>
<text x="285.60" y="604.80" font-size="6.7" text-anchor="end" fill="#000" stroke="#000" stroke-width="0.16">100</text>
<line x1="288.00" y1="563.50" x2="293.60" y2="563.50" stroke="#000" stroke-width="1.5"/>
<text x="285.60" y="565.90" font-size="6.7" text-anchor="end" fill="#000" stroke="#000" stroke-width="0.16">150</text>
<line x1="293.60" y1="680.20" x2="293.60" y2="685.40" stroke="#000" stroke-width="1.5"/>
<text x="293.60" y="695.50" font-size="6.7" text-anchor="middle" fill="#000" stroke="#000" stroke-width="0.16">0.0</text>
<line x1="322.80" y1="680.20" x2="322.80" y2="685.40" stroke="#000" stroke-width="1.5"/>
<text x="322.80" y="695.50" font-size="6.7" text-anchor="middle" fill="#000" stroke="#000" stroke-width="0.16">0.1</text>
<line x1="352.00" y1="680.20" x2="352.00" y2="685.40" stroke="#000" stroke-width="1.5"/>
<text x="352.00" y="695.50" font-size="6.7" text-anchor="middle" fill="#000" stroke="#000" stroke-width="0.16">0.2</text>
<line x1="381.20" y1="680.20" x2="381.20" y2="685.40" stroke="#000" stroke-width="1.5"/>
<text x="381.20" y="695.50" font-size="6.7" text-anchor="middle" fill="#000" stroke="#000" stroke-width="0.16">0.3</text>
<line x1="410.40" y1="680.20" x2="410.40" y2="685.40" stroke="#000" stroke-width="1.5"/>
<text x="410.40" y="695.50" font-size="6.7" text-anchor="middle" fill="#000" stroke="#000" stroke-width="0.16">0.4</text>
<text transform="translate(269.70,622.90) rotate(-90)" font-size="10.9" font-weight="bold" stroke="#000" stroke-width="0.22" text-anchor="middle">V-9302 Efficacy</text>
<text x="351.20" y="709.90" font-size="11.0" font-weight="bold" text-anchor="middle" fill="#000" stroke="#000" stroke-width="0.22">SLC1A5_var Expression</text>
<text x="374.50" y="572.90" font-size="8.2" text-anchor="start" fill="#000" stroke="#000" stroke-width="0.16">n = 50</text>
<text x="374.50" y="583.40" font-size="8.2" text-anchor="start" fill="#000" stroke="#000" stroke-width="0.16">Pearson r = -0.1964</text>
<text x="374.50" y="593.10" font-size="8.2" text-anchor="start" fill="#000" stroke="#000" stroke-width="0.16">P-value 0.1716 <tspan font-size="5.2" dy="-2.4">ns</tspan></text>
</g>
<g id="panelE">
<text x="469.70" y="521.40" font-size="16.5" font-weight="bold" text-anchor="start" fill="#000">E</text>
<text x="605.10" y="525.10" font-size="11.0" font-weight="bold" text-anchor="middle" fill="#000" stroke="#000" stroke-width="0.22">Patient Derived</text>
<text x="605.10" y="538.40" font-size="11.0" font-weight="bold" text-anchor="middle" fill="#000" stroke="#000" stroke-width="0.22">Pancreatic Cancer</text>
<text x="605.10" y="551.70" font-size="11.0" font-weight="bold" text-anchor="middle" fill="#000" stroke="#000" stroke-width="0.22">Organoids</text>
<line x1="550.00" y1="561.10" x2="656.60" y2="561.10" stroke="#000" stroke-width="1.4"/>
<text transform="translate(555.40,629.60) rotate(-90)" font-size="10.9" font-weight="bold" text-anchor="start" fill="#000" stroke="#000" stroke-width="0.22">EUS #128</text>
<text transform="translate(567.10,629.60) rotate(-90)" font-size="10.9" font-weight="bold" text-anchor="start" fill="#000" stroke="#000" stroke-width="0.22">GUN #102</text>
<text transform="translate(578.80,629.60) rotate(-90)" font-size="10.9" font-weight="bold" text-anchor="start" fill="#000" stroke="#000" stroke-width="0.22">GUN #89</text>
<text transform="translate(590.50,629.60) rotate(-90)" font-size="10.9" font-weight="bold" text-anchor="start" fill="#000" stroke="#000" stroke-width="0.22">EUS #122</text>
<text transform="translate(602.20,629.60) rotate(-90)" font-size="10.9" font-weight="bold" text-anchor="start" fill="#000" stroke="#000" stroke-width="0.22">HPT #158</text>
<text transform="translate(613.90,629.60) rotate(-90)" font-size="10.9" font-weight="bold" text-anchor="start" fill="#000" stroke="#000" stroke-width="0.22">HPT #139</text>
<text transform="translate(625.60,629.60) rotate(-90)" font-size="10.9" font-weight="bold" text-anchor="start" fill="#000" stroke="#000" stroke-width="0.22">HPT #145</text>
<text transform="translate(637.30,629.60) rotate(-90)" font-size="10.9" font-weight="bold" text-anchor="start" fill="#000" stroke="#000" stroke-width="0.22">Ascites #35</text>
<text transform="translate(649.00,629.60) rotate(-90)" font-size="10.9" font-weight="bold" text-anchor="start" fill="#000" stroke="#000" stroke-width="0.22">GUN #115</text>
<text transform="translate(660.70,629.60) rotate(-90)" font-size="10.9" font-weight="bold" text-anchor="start" fill="#000" stroke="#000" stroke-width="0.22">Ascites #22</text>
<text x="675.80" y="628.20" font-size="6.0" text-anchor="start" fill="#000" stroke="#000" stroke-width="0.16">bp</text>
<text x="529.50" y="650.85" font-size="11.0" font-weight="bold" text-anchor="end" fill="#000" stroke="#000" stroke-width="0.22">SLC1A5_var</text>
<rect x="545.70" y="641.10" width="116.80" height="11.70" fill="#161616"/>
<g filter="url(#bl)">
<rect x="559.60" y="644.05" width="7.40" height="1.80" fill="rgb(111,111,111)" opacity="0.25"/>
<rect x="571.30" y="644.05" width="7.40" height="1.80" fill="rgb(87,87,87)" opacity="0.12"/>
<rect x="583.00" y="644.05" width="7.40" height="1.80" fill="rgb(136,136,136)" opacity="0.38"/>
<rect x="594.70" y="644.05" width="7.40" height="1.80" fill="rgb(232,232,232)" opacity="0.88"/>
<rect x="606.40" y="644.05" width="7.40" height="1.80" fill="rgb(208,208,208)" opacity="0.75"/>
<rect x="618.10" y="644.05" width="7.40" height="1.80" fill="rgb(136,136,136)" opacity="0.38"/>
<rect x="629.80" y="644.05" width="7.40" height="1.80" fill="rgb(184,184,184)" opacity="0.62"/>
<rect x="641.50" y="644.05" width="7.40" height="1.80" fill="rgb(160,160,160)" opacity="0.50"/>
<rect x="653.20" y="644.05" width="7.40" height="1.80" fill="rgb(208,208,208)" opacity="0.75"/>
</g>
<line x1="660.00" y1="652.00" x2="667.20" y2="652.00" stroke="#000" stroke-width="1.9"/>
<text x="674.00" y="653.20" font-size="6.5" text-anchor="start" fill="#000" stroke="#000" stroke-width="0.16">100</text>
<text x="529.50" y="667.65" font-size="11.0" font-weight="bold" text-anchor="end" fill="#000" stroke="#000" stroke-width="0.22">SLC1A5</text>
<rect x="545.70" y="657.90" width="116.80" height="11.70" fill="#2d2d2d"/>
<g filter="url(#bl)">
<rect x="547.90" y="662.85" width="7.40" height="2.60" fill="rgb(136,136,136)" opacity="0.38"/>
<rect x="559.60" y="662.85" width="7.40" height="2.60" fill="rgb(160,160,160)" opacity="0.50"/>
<rect x="571.30" y="662.85" width="7.40" height="2.60" fill="rgb(111,111,111)" opacity="0.25"/>
<rect x="583.00" y="662.85" width="7.40" height="2.60" fill="rgb(136,136,136)" opacity="0.38"/>
<rect x="594.70" y="662.85" width="7.40" height="2.60" fill="rgb(184,184,184)" opacity="0.62"/>
<rect x="606.40" y="662.85" width="7.40" height="2.60" fill="rgb(136,136,136)" opacity="0.38"/>
<rect x="618.10" y="662.85" width="7.40" height="2.60" fill="rgb(111,111,111)" opacity="0.25"/>
<rect x="629.80" y="662.85" width="7.40" height="2.60" fill="rgb(208,208,208)" opacity="0.75"/>
<rect x="641.50" y="662.85" width="7.40" height="2.60" fill="rgb(184,184,184)" opacity="0.62"/>
<rect x="653.20" y="662.85" width="7.40" height="2.60" fill="rgb(184,184,184)" opacity="0.62"/>
</g>
<line x1="660.00" y1="668.80" x2="667.20" y2="668.80" stroke="#000" stroke-width="1.9"/>
<text x="674.00" y="670.00" font-size="6.5" text-anchor="start" fill="#000" stroke="#000" stroke-width="0.16">100</text>
<text x="529.50" y="684.80" font-size="11.0" font-weight="bold" text-anchor="end" fill="#000" stroke="#000" stroke-width="0.22">SLC38A1</text>
<rect x="545.70" y="675.30" width="116.80" height="11.20" fill="#343434"/>
<g filter="url(#bl)">
<rect x="559.05" y="679.60" width="8.50" height="5.00" fill="rgb(136,136,136)" opacity="0.47"/>
<rect x="570.75" y="679.60" width="8.50" height="5.00" fill="rgb(160,160,160)" opacity="0.56"/>
<rect x="582.45" y="679.60" width="8.50" height="5.00" fill="rgb(136,136,136)" opacity="0.47"/>
<rect x="594.15" y="679.60" width="8.50" height="5.00" fill="rgb(99,99,99)" opacity="0.34"/>
<rect x="605.85" y="679.60" width="8.50" height="5.00" fill="rgb(99,99,99)" opacity="0.34"/>
<rect x="617.55" y="679.60" width="8.50" height="5.00" fill="rgb(99,99,99)" opacity="0.34"/>
<rect x="629.25" y="679.60" width="8.50" height="5.00" fill="rgb(78,78,78)" opacity="0.25"/>
<rect x="640.95" y="679.60" width="8.50" height="5.00" fill="rgb(78,78,78)" opacity="0.25"/>
</g>
<line x1="660.00" y1="685.70" x2="667.20" y2="685.70" stroke="#000" stroke-width="1.9"/>
<text x="674.00" y="686.90" font-size="6.5" text-anchor="start" fill="#000" stroke="#000" stroke-width="0.16">100</text>
<text x="529.50" y="701.65" font-size="11.0" font-weight="bold" text-anchor="end" fill="#000" stroke="#000" stroke-width="0.22">SLC38A2</text>
<rect x="545.70" y="691.60" width="116.80" height="12.30" fill="#0c0c0c"/>
<g filter="url(#bl)">
<rect x="548.30" y="695.25" width="6.60" height="2.60" fill="rgb(255,255,255)" opacity="1.00"/>
<rect x="560.00" y="695.25" width="6.60" height="2.60" fill="rgb(255,255,255)" opacity="1.00"/>
<rect x="572.50" y="694.20" width="5.00" height="1.30" fill="rgb(208,208,208)" opacity="0.75"/>
<rect x="584.20" y="694.20" width="5.00" height="1.30" fill="rgb(184,184,184)" opacity="0.62"/>
<rect x="595.90" y="694.20" width="5.00" height="1.30" fill="rgb(184,184,184)" opacity="0.62"/>
<rect x="607.60" y="694.20" width="5.00" height="1.30" fill="rgb(184,184,184)" opacity="0.62"/>
<rect x="619.30" y="694.20" width="5.00" height="1.30" fill="rgb(184,184,184)" opacity="0.62"/>
<rect x="630.50" y="693.95" width="6.00" height="1.80" fill="rgb(255,255,255)" opacity="1.00"/>
<rect x="642.70" y="694.20" width="5.00" height="1.30" fill="rgb(136,136,136)" opacity="0.38"/>
<rect x="654.40" y="694.20" width="5.00" height="1.30" fill="rgb(208,208,208)" opacity="0.75"/>
</g>
<line x1="660.00" y1="703.10" x2="667.20" y2="703.10" stroke="#000" stroke-width="1.9"/>
<text x="674.00" y="704.30" font-size="6.5" text-anchor="start" fill="#000" stroke="#000" stroke-width="0.16">100</text>
<text x="529.50" y="718.40" font-size="11.0" font-weight="bold" text-anchor="end" fill="#000" stroke="#000" stroke-width="0.22">GAPDH</text>
<rect x="545.70" y="708.90" width="116.80" height="11.20" fill="#262626"/>
<g filter="url(#bl)">
<rect x="547.90" y="714.35" width="7.40" height="1.50" fill="rgb(160,160,160)" opacity="0.50"/>
<rect x="559.60" y="714.35" width="7.40" height="1.50" fill="rgb(160,160,160)" opacity="0.50"/>
<rect x="571.30" y="714.35" width="7.40" height="1.50" fill="rgb(160,160,160)" opacity="0.50"/>
<rect x="583.00" y="714.35" width="7.40" height="1.50" fill="rgb(160,160,160)" opacity="0.50"/>
<rect x="594.70" y="714.35" width="7.40" height="1.50" fill="rgb(184,184,184)" opacity="0.62"/>
<rect x="606.40" y="714.35" width="7.40" height="1.50" fill="rgb(184,184,184)" opacity="0.62"/>
<rect x="618.10" y="714.35" width="7.40" height="1.50" fill="rgb(184,184,184)" opacity="0.62"/>
<rect x="629.80" y="714.35" width="7.40" height="1.50" fill="rgb(184,184,184)" opacity="0.62"/>
<rect x="641.50" y="714.35" width="7.40" height="1.50" fill="rgb(160,160,160)" opacity="0.50"/>
<rect x="653.20" y="714.35" width="7.40" height="1.50" fill="rgb(160,160,160)" opacity="0.50"/>
</g>
<line x1="660.00" y1="719.30" x2="667.20" y2="719.30" stroke="#000" stroke-width="1.9"/>
<text x="674.00" y="720.50" font-size="6.5" text-anchor="start" fill="#000" stroke="#000" stroke-width="0.16">100</text>
</g>
<g id="panelF">
<text x="6.20" y="765.70" font-size="16.5" font-weight="bold" text-anchor="start" fill="#000">F</text>
<text x="70.50" y="771.00" font-size="10.8" font-weight="bold" text-anchor="middle" fill="#000" stroke="#000" stroke-width="0.22">Vehicle</text>
<text x="120.90" y="771.00" font-size="10.8" font-weight="bold" text-anchor="middle" fill="#000" stroke="#000" stroke-width="0.22">V-9302</text>
<text x="171.70" y="771.00" font-size="10.8" font-weight="bold" text-anchor="middle" fill="#000" stroke="#000" stroke-width="0.22">iMQT_020</text>
<text x="223.40" y="771.00" font-size="10.8" font-weight="bold" text-anchor="middle" fill="#000" stroke="#000" stroke-width="0.22">DM-<tspan font-family="Liberation Serif, serif" font-weight="normal" font-size="12">α</tspan>KG</text>
<text x="223.90" y="757.60" font-size="10.8" font-weight="bold" text-anchor="middle" fill="#000" stroke="#000" stroke-width="0.22">iMQT_020 +</text>
<text transform="translate(22.3,801.1) rotate(-90)" font-size="10.8" font-weight="bold" stroke="#000" stroke-width="0.22" text-anchor="middle">HPT</text>
<text transform="translate(35.9,801.1) rotate(-90)" font-size="10.8" font-weight="bold" stroke="#000" stroke-width="0.22" text-anchor="middle">#139</text>
<text transform="translate(22.6,853.3) rotate(-90)" font-size="10.8" font-weight="bold" stroke="#000" stroke-width="0.22" text-anchor="middle">Ascites</text>
<text transform="translate(35.9,853.3) rotate(-90)" font-size="10.8" font-weight="bold" stroke="#000" stroke-width="0.22" text-anchor="middle">#35</text>
<rect x="45.50" y="777.10" width="48.20" height="48.20" fill="#b5b5b5"/>
<g transform="translate(45.50,777.10)">
<rect x="0" y="0" width="48.2" height="48.2" fill="#808080" filter="url(#grain)" opacity="0.2"/>
<path d="M5.4 12.2 q0.4 -7.4 8.6 -8.4 q8.6 0.6 8.8 8 q-1 7.4 -8.8 8 q-8 0 -8.6 -7.6z" fill="#b0b0b0" stroke="#141414" stroke-width="1.1"/>
<g filter="url(#bl)"><ellipse cx="11.2" cy="12.4" rx="2.5" ry="3.3" fill="#7e7e7e"/><ellipse cx="16.6" cy="11.8" rx="2.3" ry="3.2" fill="#858585"/><ellipse cx="11.2" cy="12.6" rx="1" ry="1.5" fill="#5c5c5c"/></g>
<path d="M21.4 36.8 q1.6 -5.4 8 -5.2 q7 1.2 6.2 7.6 q-1.6 5.8 -7.4 5.8 q-1.6 -2.6 -4.2 -2.4 q-3.4 -2 -2.6 -5.8z" fill="#b2b2b2" stroke="#141414" stroke-width="1.1"/>
<g filter="url(#bl)"><ellipse cx="27.6" cy="37.6" rx="2.6" ry="3.0" fill="#7c7c7c"/><ellipse cx="31.8" cy="36.4" rx="2.0" ry="2.4" fill="#8a8a8a"/></g>
<circle cx="26.6" cy="5.2" r="1" fill="none" stroke="#4a4a4a" stroke-width="0.5"/><circle cx="42.6" cy="31.6" r="0.8" fill="#777"/><circle cx="35.7" cy="23.8" r="0.5" fill="#777"/><circle cx="6.4" cy="32.4" r="0.45" fill="#555"/>
<circle cx="41.4" cy="37.0" r="1.5" fill="#c6c6c6" stroke="#a2a2a2" stroke-width="0.4"/><circle cx="40" cy="43" r="1.1" fill="#c0c0c0" stroke="#a8a8a8" stroke-width="0.3"/>
<line x1="2.2" y1="43.3" x2="25.6" y2="43.3" stroke="#fff" stroke-width="1.6"/>
<text x="7.2" y="38.2" font-size="5.2" fill="#1c1c1c" stroke="#1c1c1c" stroke-width="0.15">10μm</text>
</g>
<rect x="45.50" y="777.10" width="48.20" height="48.20" fill="none" stroke="#1c1c1c" stroke-width="1.2"/>
<rect x="96.30" y="777.10" width="48.20" height="48.20" fill="#b7b7b7"/>
<g transform="translate(96.30,777.10)">
<rect x="0" y="0" width="48.2" height="48.2" fill="#808080" filter="url(#grain)" opacity="0.2"/>
<g filter="url(#bl2)"><circle cx="2.2" cy="9.2" r="3.6" fill="#fafafa"/><circle cx="2.4" cy="2.6" r="2.2" fill="#e4e4e4"/><circle cx="20.6" cy="23.4" r="4.6" fill="#a2a2a2"/><circle cx="20.6" cy="23.4" r="2.6" fill="#fff"/></g>
<g filter="url(#bl)"><circle cx="20.6" cy="23.4" r="1.3" fill="#fff"/><ellipse cx="7.8" cy="8.2" rx="2.8" ry="3.2" fill="#707070"/><ellipse cx="7.4" cy="8.0" rx="1.3" ry="1.8" fill="#3c3c3c"/></g>
<path d="M30.6 34.0 q1.4 -4.6 6.4 -4.6 q5.8 1 5.6 5.6 q-1 5.2 -6.4 5.2 q-6.2 -1 -5.6 -6.2z" fill="#a0a0a0" stroke="#1c1c1c" stroke-width="1.0"/>
<g filter="url(#bl)"><ellipse cx="36.6" cy="35.0" rx="3.2" ry="2.8" fill="none" stroke="#5a5a5a" stroke-width="0.8"/><ellipse cx="36.8" cy="35.2" rx="1.6" ry="1.5" fill="#8a8a8a"/></g><circle cx="43.8" cy="34.2" r="1.15" fill="#2a2a2a"/>
<circle cx="20.9" cy="31.9" r="0.75" fill="#222"/><circle cx="12.8" cy="15.0" r="0.6" fill="#666"/><circle cx="34.0" cy="45.0" r="0.85" fill="#333"/><circle cx="8.2" cy="20.4" r="0.6" fill="#6a6a6a"/><circle cx="45.2" cy="21.6" r="0.6" fill="#555"/><circle cx="32.2" cy="41.8" r="0.9" fill="none" stroke="#777" stroke-width="0.3"/>
<line x1="2.2" y1="43.3" x2="25.6" y2="43.3" stroke="#fff" stroke-width="1.6"/>
<text x="7.2" y="38.2" font-size="5.2" fill="#1c1c1c" stroke="#1c1c1c" stroke-width="0.15">10μm</text>
</g>
<rect x="96.30" y="777.10" width="48.20" height="48.20" fill="none" stroke="#1c1c1c" stroke-width="1.2"/>
<rect x="147.60" y="777.10" width="48.20" height="48.20" fill="#b9b9b9"/>
<g transform="translate(147.60,777.10)">
<rect x="0" y="0" width="48.2" height="48.2" fill="#808080" filter="url(#grain)" opacity="0.2"/>
<g filter="url(#bl)"><circle cx="14.4" cy="11.7" r="1.7" fill="#505050"/><circle cx="15.6" cy="9.4" r="0.9" fill="#777"/><circle cx="16.7" cy="20.2" r="2.7" fill="#868686"/><circle cx="16.7" cy="20.2" r="1.3" fill="#f0f0f0"/><circle cx="32.2" cy="14.1" r="1.3" fill="#6e6e6e"/><circle cx="5.3" cy="32.6" r="0.8" fill="#666"/><circle cx="34.5" cy="30.4" r="0.7" fill="#6a6a6a"/><circle cx="41.7" cy="29.9" r="0.9" fill="#8a8a8a"/><circle cx="17.5" cy="41.3" r="0.6" fill="#666"/><circle cx="6.6" cy="11" r="0.5" fill="#555"/><circle cx="11" cy="10.6" r="0.5" fill="#444"/></g>
<line x1="2.2" y1="43.3" x2="25.6" y2="43.3" stroke="#fff" stroke-width="1.6"/>
<text x="7.2" y="38.2" font-size="5.2" fill="#1c1c1c" stroke="#1c1c1c" stroke-width="0.15">10μm</text>
</g>
<rect x="147.60" y="777.10" width="48.20" height="48.20" fill="none" stroke="#1c1c1c" stroke-width="1.2"/>
<rect x="199.10" y="777.10" width="48.20" height="48.20" fill="#b8b8b8"/>
<g transform="translate(199.10,777.10)">
<rect x="0" y="0" width="48.2" height="48.2" fill="#808080" filter="url(#grain)" opacity="0.2"/>
<ellipse cx="12.6" cy="15.6" rx="7.6" ry="6.2" fill="#d6d6d6" stroke="#101010" stroke-width="1.5"/>
<g filter="url(#bl)"><ellipse cx="12.6" cy="15.8" rx="5.2" ry="4.0" fill="#9a9a9a"/><ellipse cx="10.4" cy="15.4" rx="2.0" ry="2.4" fill="#6a6a6a"/><ellipse cx="14.8" cy="16.6" rx="2.0" ry="2.2" fill="#747474"/></g>
<ellipse cx="31.6" cy="25.0" rx="4.3" ry="5.0" fill="#c4c4c4" stroke="#2c2c2c" stroke-width="0.7"/><ellipse cx="31.2" cy="25.6" rx="2.9" ry="3.5" fill="#b4b4b4" stroke="#1e1e1e" stroke-width="0.7"/><g filter="url(#bl)"><ellipse cx="31.4" cy="25.8" rx="1.5" ry="1.8" fill="#7e7e7e"/></g>
<g filter="url(#bl)"><ellipse cx="21" cy="25" rx="1.3" ry="1.8" fill="#666"/><circle cx="20.2" cy="21.4" r="0.7" fill="#777"/><circle cx="26.2" cy="20.4" r="0.7" fill="#777"/></g><ellipse cx="27.8" cy="34.6" rx="2.3" ry="1.4" fill="#a4a4a4" stroke="#8a8a8a" stroke-width="0.4"/><circle cx="43.3" cy="44.0" r="0.95" fill="#3a3a3a"/>
<line x1="2.2" y1="43.3" x2="25.6" y2="43.3" stroke="#fff" stroke-width="1.6"/>
<text x="7.2" y="38.2" font-size="5.2" fill="#1c1c1c" stroke="#1c1c1c" stroke-width="0.15">10μm</text>
</g>
<rect x="199.10" y="777.10" width="48.20" height="48.20" fill="none" stroke="#1c1c1c" stroke-width="1.2"/>
<rect x="45.50" y="829.20" width="48.20" height="48.20" fill="#aaaaaa"/>
<g transform="translate(45.50,829.20)">
<rect x="0" y="0" width="48.2" height="48.2" fill="#808080" filter="url(#grain)" opacity="0.4"/>
<g filter="url(#bl)" fill="none" stroke="#555" stroke-width="0.5" stroke-dasharray="1.2 1.1"><ellipse cx="15" cy="27" rx="9.6" ry="13"/><ellipse cx="14" cy="26" rx="6" ry="9"/><ellipse cx="15" cy="28" rx="3" ry="5"/><ellipse cx="19" cy="19" rx="4" ry="4"/></g>
<g filter="url(#noise)"><path d="M6 17 q5 -5 10 -3 q4 -3 8 0 q4 3 2 8 q2 5 -2 8 q1 6 -4 9 q-4 3 -8 1 q-5 0 -7 -5 q-3 -5 -1 -9 q-1 -5 2 -9z" fill="#9a9a9a"/></g>
<circle cx="36.4" cy="15.5" r="4.2" fill="#b4b4b4" stroke="#3a3a3a" stroke-width="0.7" stroke-dasharray="1.6 0.6"/><g filter="url(#bl)"><circle cx="36.4" cy="15.3" r="2.2" fill="#9a9a9a"/><path d="M34.6 14 h3.6 M36.4 14 v3" stroke="#666" stroke-width="0.6"/></g>
<line x1="2.2" y1="44.4" x2="25.6" y2="44.4" stroke="#fff" stroke-width="1.6"/>
<text x="7.2" y="39.2" font-size="5.2" fill="#1c1c1c" stroke="#1c1c1c" stroke-width="0.15">10μm</text>
</g>
<rect x="45.50" y="829.20" width="48.20" height="48.20" fill="none" stroke="#1c1c1c" stroke-width="1.2"/>
<rect x="96.30" y="829.20" width="48.20" height="48.20" fill="#adadad"/>
<g transform="translate(96.30,829.20)">
<rect x="0" y="0" width="48.2" height="48.2" fill="#808080" filter="url(#grain)" opacity="0.4"/>
<g filter="url(#bl)" fill="none" stroke="#555" stroke-width="0.5" stroke-dasharray="1.2 1.1"><ellipse cx="13.2" cy="18.5" rx="4.6" ry="5.4"/><ellipse cx="13.2" cy="18.5" rx="2.2" ry="2.6"/><ellipse cx="34.5" cy="13" rx="6" ry="8.4"/><ellipse cx="34.5" cy="12" rx="3" ry="4.6"/><ellipse cx="28.4" cy="38.3" rx="3.6" ry="3.4"/><ellipse cx="40.2" cy="35.2" rx="2" ry="2.6"/></g>
<g filter="url(#noise)"><ellipse cx="13.2" cy="18.5" rx="5.6" ry="6.4" fill="#9c9c9c"/><path d="M29 6 q4 -4 9 -2 q4 3 3 8 q3 4 0 8 q-4 3 -8 1 q-5 -1 -5 -6 q-2 -5 1 -9z" fill="#9a9a9a"/><ellipse cx="28.4" cy="38.3" rx="4.4" ry="4.2" fill="#a0a0a0"/><ellipse cx="40.2" cy="35.2" rx="2.6" ry="3.2" fill="#9a9a9a"/><ellipse cx="9" cy="8" rx="1.5" ry="2" fill="#999"/></g>
<line x1="2.2" y1="44.4" x2="25.6" y2="44.4" stroke="#fff" stroke-width="1.6"/>
<text x="7.2" y="39.2" font-size="5.2" fill="#1c1c1c" stroke="#1c1c1c" stroke-width="0.15">10μm</text>
</g>
<rect x="96.30" y="829.20" width="48.20" height="48.20" fill="none" stroke="#1c1c1c" stroke-width="1.2"/>
<rect x="147.60" y="829.20" width="48.20" height="48.20" fill="#adadad"/>
<g transform="translate(147.60,829.20)">
<rect x="0" y="0" width="48.2" height="48.2" fill="#808080" filter="url(#grain)" opacity="0.4"/>
<g filter="url(#bl)" fill="none" stroke="#4e4e4e" stroke-width="0.55" stroke-dasharray="1.1 0.9"><ellipse cx="24.6" cy="20.8" rx="2.2" ry="2.9"/><ellipse cx="37.7" cy="14" rx="2.3" ry="2.7"/><ellipse cx="38.7" cy="36" rx="2.6" ry="2.9"/><ellipse cx="42.5" cy="28.4" rx="1.5" ry="1.8"/></g>
<g filter="url(#noise)"><ellipse cx="24.6" cy="20.8" rx="2.9" ry="3.6" fill="#8c8c8c"/><ellipse cx="37.7" cy="14" rx="2.9" ry="3.4" fill="#959595"/><ellipse cx="38.7" cy="36" rx="3.3" ry="3.6" fill="#929292"/><ellipse cx="42.5" cy="28.4" rx="2.2" ry="2.4" fill="#929292"/><ellipse cx="8" cy="42" rx="2.4" ry="1.6" fill="#999"/></g>
<line x1="2.2" y1="44.4" x2="25.6" y2="44.4" stroke="#fff" stroke-width="1.6"/>
<text x="7.2" y="39.2" font-size="5.2" fill="#1c1c1c" stroke="#1c1c1c" stroke-width="0.15">10μm</text>
</g>
<rect x="147.60" y="829.20" width="48.20" height="48.20" fill="none" stroke="#1c1c1c" stroke-width="1.2"/>
<rect x="199.10" y="829.20" width="48.20" height="48.20" fill="#c4c4c4"/>
<g transform="translate(199.10,829.20)">
<rect x="0" y="0" width="48.2" height="48.2" fill="#808080" filter="url(#grain)" opacity="0.18"/>
<path d="M4.2 31 q1.6 -7.4 9.4 -8.2 q5.6 1 7.6 6 q2.6 6 -0.6 12.4 l-1.4 6.2 h-12 q-4.4 -7 -3 -16.4z" fill="#b9b9b9" stroke="#dedede" stroke-width="0.6"/>
<path d="M23.4 20.5 q1.6 -5.6 6.8 -6.2 q7.2 -1 11.4 3.4 q3.4 4.4 0.8 9.6 q-3.4 5 -9.6 4.6 q-6.4 -0.6 -8.8 -5 q-1.6 -3 -0.6 -6.4z" fill="#acacac" stroke="#dadada" stroke-width="0.7"/>
<g filter="url(#bl2)"><ellipse cx="33" cy="23.5" rx="5.6" ry="4.2" fill="#a2a2a2"/><ellipse cx="12.6" cy="35" rx="4.2" ry="5" fill="#b0b0b0"/></g>
<g filter="url(#bl)"><ellipse cx="37.4" cy="2.6" rx="1.6" ry="1.0" fill="#555"/></g>
<line x1="2.2" y1="44.4" x2="25.6" y2="44.4" stroke="#fff" stroke-width="1.6"/>
<text x="7.2" y="39.2" font-size="5.2" fill="#1c1c1c" stroke="#1c1c1c" stroke-width="0.15">10μm</text>
</g>
<rect x="199.10" y="829.20" width="48.20" height="48.20" fill="none" stroke="#1c1c1c" stroke-width="1.2"/>
<line x1="45.60" y1="906.00" x2="45.60" y2="985.50" stroke="#000" stroke-width="2.0"/>
<line x1="39.60" y1="984.50" x2="240.60" y2="984.50" stroke="#000" stroke-width="2.0"/>
<line x1="39.60" y1="984.50" x2="45.60" y2="984.50" stroke="#000" stroke-width="1.5"/>
<text x="37.50" y="986.90" font-size="6.6" text-anchor="end" fill="#000" stroke="#000" stroke-width="0.16">0</text>
<line x1="39.60" y1="952.40" x2="45.60" y2="952.40" stroke="#000" stroke-width="1.5"/>
<text x="37.50" y="954.80" font-size="6.6" text-anchor="end" fill="#000" stroke="#000" stroke-width="0.16">50</text>
<line x1="39.60" y1="920.30" x2="45.60" y2="920.30" stroke="#000" stroke-width="1.5"/>
<text x="37.50" y="922.70" font-size="6.6" text-anchor="end" fill="#000" stroke="#000" stroke-width="0.16">100</text>
<line x1="93.10" y1="984.50" x2="93.10" y2="990.10" stroke="#000" stroke-width="1.9"/>
<text x="93.60" y="1002.90" font-size="11.0" font-weight="bold" text-anchor="middle" fill="#000" stroke="#000" stroke-width="0.22">HPT #139</text>
<line x1="189.80" y1="984.50" x2="189.80" y2="990.10" stroke="#000" stroke-width="1.9"/>
<text x="190.30" y="1002.90" font-size="11.0" font-weight="bold" text-anchor="middle" fill="#000" stroke="#000" stroke-width="0.22">Ascites #35</text>
<text transform="translate(18.0,948.0) rotate(-90)" font-size="10.8" font-weight="bold" stroke="#000" stroke-width="0.22" text-anchor="middle">Cell Viability (%)</text>
<line x1="56.20" y1="919.98" x2="69.40" y2="919.98" stroke="#8c8c8c" stroke-width="1.4"/>
<line x1="62.80" y1="918.69" x2="62.80" y2="921.26" stroke="#8c8c8c" stroke-width="1.2"/>
<line x1="59.40" y1="918.69" x2="66.20" y2="918.69" stroke="#8c8c8c" stroke-width="1.2"/>
<line x1="59.40" y1="921.26" x2="66.20" y2="921.26" stroke="#8c8c8c" stroke-width="1.2"/>
<rect x="56.50" y="917.04" width="4.60" height="4.60" fill="#8c8c8c"/>
<rect x="64.50" y="917.04" width="4.60" height="4.60" fill="#8c8c8c"/>
<rect x="60.50" y="919.28" width="4.60" height="4.60" fill="#8c8c8c"/>
<line x1="76.80" y1="927.04" x2="90.00" y2="927.04" stroke="#10c070" stroke-width="1.4"/>
<line x1="83.40" y1="923.19" x2="83.40" y2="930.89" stroke="#10c070" stroke-width="1.2"/>
<line x1="80.00" y1="923.19" x2="86.80" y2="923.19" stroke="#10c070" stroke-width="1.2"/>
<line x1="80.00" y1="930.89" x2="86.80" y2="930.89" stroke="#10c070" stroke-width="1.2"/>
<rect x="81.10" y="921.21" width="4.60" height="4.60" fill="#10c070"/>
<rect x="81.10" y="924.74" width="4.60" height="4.60" fill="#10c070"/>
<rect x="81.10" y="928.91" width="4.60" height="4.60" fill="#10c070"/>
<line x1="97.40" y1="937.63" x2="110.60" y2="937.63" stroke="#fb4545" stroke-width="1.4"/>
<line x1="104.00" y1="930.57" x2="104.00" y2="944.05" stroke="#fb4545" stroke-width="1.2"/>
<line x1="100.60" y1="930.57" x2="107.40" y2="930.57" stroke="#fb4545" stroke-width="1.2"/>
<line x1="100.60" y1="944.05" x2="107.40" y2="944.05" stroke="#fb4545" stroke-width="1.2"/>
<circle cx="104.00" cy="930.57" r="2.45" fill="#fb4545"/>
<circle cx="104.00" cy="937.63" r="2.45" fill="#fb4545"/>
<circle cx="104.00" cy="944.05" r="2.45" fill="#fb4545"/>
<line x1="118.60" y1="927.68" x2="131.80" y2="927.68" stroke="#a514e6" stroke-width="1.4"/>
<line x1="125.20" y1="924.79" x2="125.20" y2="930.25" stroke="#a514e6" stroke-width="1.2"/>
<line x1="121.80" y1="924.79" x2="128.60" y2="924.79" stroke="#a514e6" stroke-width="1.2"/>
<line x1="121.80" y1="930.25" x2="128.60" y2="930.25" stroke="#a514e6" stroke-width="1.2"/>
<circle cx="120.80" cy="924.79" r="2.45" fill="#a514e6"/>
<circle cx="130.40" cy="927.68" r="2.45" fill="#a514e6"/>
<circle cx="121.60" cy="930.25" r="2.45" fill="#a514e6"/>
<line x1="152.90" y1="919.34" x2="166.10" y2="919.34" stroke="#8c8c8c" stroke-width="1.4"/>
<line x1="159.50" y1="912.60" x2="159.50" y2="924.79" stroke="#8c8c8c" stroke-width="1.2"/>
<line x1="156.10" y1="912.60" x2="162.90" y2="912.60" stroke="#8c8c8c" stroke-width="1.2"/>
<line x1="156.10" y1="924.79" x2="162.90" y2="924.79" stroke="#8c8c8c" stroke-width="1.2"/>
<rect x="157.20" y="910.30" width="4.60" height="4.60" fill="#8c8c8c"/>
<rect x="153.20" y="919.93" width="4.60" height="4.60" fill="#8c8c8c"/>
<rect x="161.20" y="919.93" width="4.60" height="4.60" fill="#8c8c8c"/>
<line x1="173.50" y1="922.23" x2="186.70" y2="922.23" stroke="#10c070" stroke-width="1.4"/>
<line x1="180.10" y1="916.45" x2="180.10" y2="928.00" stroke="#10c070" stroke-width="1.2"/>
<line x1="176.70" y1="916.45" x2="183.50" y2="916.45" stroke="#10c070" stroke-width="1.2"/>
<line x1="176.70" y1="928.00" x2="183.50" y2="928.00" stroke="#10c070" stroke-width="1.2"/>
<rect x="177.80" y="914.15" width="4.60" height="4.60" fill="#10c070"/>
<rect x="177.80" y="919.93" width="4.60" height="4.60" fill="#10c070"/>
<rect x="177.80" y="925.70" width="4.60" height="4.60" fill="#10c070"/>
<line x1="194.40" y1="942.77" x2="207.60" y2="942.77" stroke="#fb4545" stroke-width="1.4"/>
<line x1="201.00" y1="939.88" x2="201.00" y2="945.34" stroke="#fb4545" stroke-width="1.2"/>
<line x1="197.60" y1="939.88" x2="204.40" y2="939.88" stroke="#fb4545" stroke-width="1.2"/>
<line x1="197.60" y1="945.34" x2="204.40" y2="945.34" stroke="#fb4545" stroke-width="1.2"/>
<circle cx="196.90" cy="940.52" r="2.45" fill="#fb4545"/>
<circle cx="205.40" cy="941.49" r="2.45" fill="#fb4545"/>
<circle cx="201.00" cy="945.66" r="2.45" fill="#fb4545"/>
<line x1="215.40" y1="928.33" x2="228.60" y2="928.33" stroke="#a514e6" stroke-width="1.4"/>
<line x1="222.00" y1="920.30" x2="222.00" y2="935.71" stroke="#a514e6" stroke-width="1.2"/>
<line x1="218.60" y1="920.30" x2="225.40" y2="920.30" stroke="#a514e6" stroke-width="1.2"/>
<line x1="218.60" y1="935.71" x2="225.40" y2="935.71" stroke="#a514e6" stroke-width="1.2"/>
<circle cx="222.00" cy="920.30" r="2.45" fill="#a514e6"/>
<circle cx="222.00" cy="928.65" r="2.45" fill="#a514e6"/>
<circle cx="222.00" cy="935.71" r="2.45" fill="#a514e6"/>
<line x1="63.00" y1="893.90" x2="104.40" y2="893.90" stroke="#000" stroke-width="1.0"/>
<text x="83.80" y="891.30" font-size="9.0" font-weight="bold" text-anchor="middle" fill="#000" stroke="#000" stroke-width="0.22">**</text>
<line x1="103.60" y1="908.30" x2="125.00" y2="908.30" stroke="#000" stroke-width="1.0"/>
<text x="114.40" y="905.70" font-size="9.0" font-weight="bold" text-anchor="middle" fill="#000" stroke="#000" stroke-width="0.22">*</text>
<line x1="158.90" y1="893.90" x2="200.20" y2="893.90" stroke="#000" stroke-width="1.0"/>
<text x="179.90" y="891.30" font-size="9.0" font-weight="bold" text-anchor="middle" fill="#000" stroke="#000" stroke-width="0.22">***</text>
<line x1="201.60" y1="908.30" x2="222.40" y2="908.30" stroke="#000" stroke-width="1.0"/>
<text x="212.00" y="905.70" font-size="9.0" font-weight="bold" text-anchor="middle" fill="#000" stroke="#000" stroke-width="0.22">*</text>
<rect x="56.90" y="959.20" width="4.20" height="4.20" fill="#8c8c8c"/>
<text x="80.80" y="964.40" font-size="8.1" text-anchor="start" fill="#000" stroke="#000" stroke-width="0.16">Vehicle</text>
<rect x="146.20" y="959.20" width="4.20" height="4.20" fill="#10c070"/>
<text x="170.90" y="964.40" font-size="8.1" text-anchor="start" fill="#000" stroke="#000" stroke-width="0.16">V-9302</text>
<circle cx="59.00" cy="975.60" r="2.2" fill="#fb4545"/>
<text x="80.80" y="978.60" font-size="8.1" text-anchor="start" fill="#000" stroke="#000" stroke-width="0.16">iMQT_020</text>
<circle cx="148.30" cy="975.60" r="2.2" fill="#a514e6"/>
<text x="170.90" y="978.60" font-size="8.1" text-anchor="start" fill="#000" stroke="#000" stroke-width="0.16">iMQT_020 + DM-<tspan font-family="Liberation Serif, serif" font-size="9">α</tspan>KG</text>
</g>
<g id="panelG">
<text x="267.20" y="766.20" font-size="16.5" font-weight="bold" text-anchor="start" fill="#000">G</text>
<line x1="281.30" y1="796.80" x2="302.40" y2="796.80" stroke="#fb4545" stroke-width="1.6"/>
<circle cx="291.80" cy="796.80" r="2.1" fill="#fb4545"/>
<line x1="281.30" y1="832.20" x2="302.40" y2="832.20" stroke="#0cba0c" stroke-width="1.6"/>
<rect x="289.80" y="830.20" width="4.00" height="4.00" fill="#0cba0c"/>
<text x="308.30" y="799.80" font-size="8.2" text-anchor="start" fill="#000" stroke="#000" stroke-width="0.16">iMQT_020</text>
<text x="308.30" y="835.20" font-size="8.2" text-anchor="start" fill="#000" stroke="#000" stroke-width="0.16">V-9302</text>
<text x="354.80" y="797.80" font-size="8.2" text-anchor="start" fill="#000" stroke="#000" stroke-width="0.16">n = 10</text>
<text x="354.80" y="807.90" font-size="8.2" text-anchor="start" fill="#000" stroke="#000" stroke-width="0.16">Pearson r = -0.6740</text>
<text x="354.80" y="818.00" font-size="8.2" text-anchor="start" fill="#000" stroke="#000" stroke-width="0.16">P-value 0.0163 <tspan font-size="5.4" dy="-2.4">*</tspan></text>
<text x="355.90" y="833.60" font-size="8.2" text-anchor="start" fill="#000" stroke="#000" stroke-width="0.16">n = 10</text>
<text x="355.90" y="843.60" font-size="8.2" text-anchor="start" fill="#000" stroke="#000" stroke-width="0.16">Pearson r = 0.5021</text>
<text x="355.90" y="853.60" font-size="8.2" text-anchor="start" fill="#000" stroke="#000" stroke-width="0.16">P-value 0.0700 <tspan font-size="5.2" dy="-2.4">ns</tspan></text>
<rect x="330.88" y="890.43" width="4.30" height="4.30" fill="#0cba0c"/>
<rect x="333.77" y="895.95" width="4.30" height="4.30" fill="#0cba0c"/>
<rect x="326.68" y="910.92" width="4.30" height="4.30" fill="#0cba0c"/>
<rect x="337.45" y="918.54" width="4.30" height="4.30" fill="#0cba0c"/>
<rect x="348.75" y="890.69" width="4.30" height="4.30" fill="#0cba0c"/>
<rect x="361.89" y="889.90" width="4.30" height="4.30" fill="#0cba0c"/>
<rect x="365.30" y="887.54" width="4.30" height="4.30" fill="#0cba0c"/>
<rect x="367.14" y="888.59" width="4.30" height="4.30" fill="#0cba0c"/>
<rect x="366.09" y="902.52" width="4.30" height="4.30" fill="#0cba0c"/>
<rect x="396.57" y="889.90" width="4.30" height="4.30" fill="#0cba0c"/>
<circle cx="328.83" cy="898.62" r="2.15" fill="#fb4545"/>
<circle cx="335.92" cy="935.67" r="2.15" fill="#fb4545"/>
<circle cx="339.60" cy="935.67" r="2.15" fill="#fb4545"/>
<circle cx="333.03" cy="945.13" r="2.15" fill="#fb4545"/>
<circle cx="368.24" cy="918.33" r="2.15" fill="#fb4545"/>
<circle cx="398.72" cy="955.90" r="2.15" fill="#fb4545"/>
<circle cx="368.77" cy="968.51" r="2.15" fill="#fb4545"/>
<circle cx="350.90" cy="981.12" r="2.15" fill="#fb4545"/>
<circle cx="364.04" cy="980.86" r="2.15" fill="#fb4545"/>
<circle cx="367.45" cy="979.02" r="2.15" fill="#fb4545"/>
<line x1="329.40" y1="905.20" x2="398.20" y2="888.10" stroke="#0cba0c" stroke-width="2.2"/>
<line x1="329.40" y1="934.40" x2="398.20" y2="974.80" stroke="#fb4545" stroke-width="2.2"/>
<line x1="307.50" y1="867.60" x2="307.50" y2="985.60" stroke="#000" stroke-width="2.1"/>
<line x1="306.50" y1="984.60" x2="424.60" y2="984.60" stroke="#000" stroke-width="2.1"/>
<line x1="301.30" y1="984.60" x2="307.50" y2="984.60" stroke="#000" stroke-width="1.7"/>
<text x="298.90" y="986.90" font-size="6.5" text-anchor="end" fill="#000" stroke="#000" stroke-width="0.16">0</text>
<line x1="301.30" y1="936.10" x2="307.50" y2="936.10" stroke="#000" stroke-width="1.7"/>
<text x="298.90" y="938.40" font-size="6.5" text-anchor="end" fill="#000" stroke="#000" stroke-width="0.16">50</text>
<line x1="301.30" y1="887.60" x2="307.50" y2="887.60" stroke="#000" stroke-width="1.7"/>
<text x="298.90" y="889.90" font-size="6.5" text-anchor="end" fill="#000" stroke="#000" stroke-width="0.16">100</text>
<line x1="307.50" y1="984.60" x2="307.50" y2="990.20" stroke="#000" stroke-width="1.7"/>
<text x="307.20" y="999.60" font-size="6.5" text-anchor="middle" fill="#000" stroke="#000" stroke-width="0.16">0</text>
<line x1="346.25" y1="984.60" x2="346.25" y2="990.20" stroke="#000" stroke-width="1.7"/>
<text x="345.95" y="999.60" font-size="6.5" text-anchor="middle" fill="#000" stroke="#000" stroke-width="0.16">1</text>
<line x1="385.00" y1="984.60" x2="385.00" y2="990.20" stroke="#000" stroke-width="1.7"/>
<text x="384.70" y="999.60" font-size="6.5" text-anchor="middle" fill="#000" stroke="#000" stroke-width="0.16">2</text>
<line x1="423.75" y1="984.60" x2="423.75" y2="990.20" stroke="#000" stroke-width="1.7"/>
<text x="423.45" y="999.60" font-size="6.5" text-anchor="middle" fill="#000" stroke="#000" stroke-width="0.16">3</text>
<text transform="translate(277.7,936.8) rotate(-90)" font-size="11.0" font-weight="bold" stroke="#000" stroke-width="0.22" text-anchor="middle">Chemical Efficiency</text>
<text x="365.90" y="1016.20" font-size="11.0" font-weight="bold" text-anchor="middle" fill="#000" stroke="#000" stroke-width="0.22">SLC1A5_var Expression</text>
</g>
<g id="panelH">
<text x="438.00" y="767.00" font-size="16.5" font-weight="bold" text-anchor="start" fill="#000">H</text>
<line x1="508.70" y1="800.90" x2="508.70" y2="919.10" stroke="#000" stroke-width="2.0"/>
<line x1="507.70" y1="918.10" x2="680.00" y2="918.10" stroke="#000" stroke-width="2.0"/>
<line x1="503.10" y1="918.10" x2="508.70" y2="918.10" stroke="#000" stroke-width="1.3"/>
<text x="498.60" y="920.30" font-size="6.2" text-anchor="end" fill="#000" stroke="#000" stroke-width="0.16">0.0</text>
<line x1="503.10" y1="879.20" x2="508.70" y2="879.20" stroke="#000" stroke-width="1.3"/>
<text x="498.60" y="881.40" font-size="6.2" text-anchor="end" fill="#000" stroke="#000" stroke-width="0.16">0.5</text>
<line x1="503.10" y1="840.30" x2="508.70" y2="840.30" stroke="#000" stroke-width="1.3"/>
<text x="498.60" y="842.50" font-size="6.2" text-anchor="end" fill="#000" stroke="#000" stroke-width="0.16">1.0</text>
<line x1="503.10" y1="801.40" x2="508.70" y2="801.40" stroke="#000" stroke-width="1.3"/>
<text x="498.60" y="803.60" font-size="6.2" text-anchor="end" fill="#000" stroke="#000" stroke-width="0.16">1.5</text>
<text transform="translate(474.1,858.0) rotate(-90)" font-size="11.0" font-weight="bold" stroke="#000" stroke-width="0.22" text-anchor="middle">Relative Cell Viability</text>
<text x="452.40" y="937.20" font-size="10.8" font-weight="bold" text-anchor="start" fill="#000" stroke="#000" stroke-width="0.22">iMQT_020</text>
<line x1="520.20" y1="918.10" x2="520.20" y2="923.30" stroke="#000" stroke-width="1.6"/>
<text x="520.20" y="937.00" font-size="11.0" font-weight="bold" text-anchor="middle" fill="#000" stroke="#000" stroke-width="0.22">-</text>
<text transform="translate(524.10,946.60) rotate(-90)" font-size="10.9" font-weight="bold" text-anchor="end" fill="#000" stroke="#000" stroke-width="0.22">-</text>
<line x1="514.90" y1="840.46" x2="525.50" y2="840.46" stroke="#1a1af0" stroke-width="1.2"/>
<line x1="520.20" y1="836.78" x2="520.20" y2="843.35" stroke="#1a1af0" stroke-width="1.1"/>
<line x1="517.40" y1="836.78" x2="523.00" y2="836.78" stroke="#1a1af0" stroke-width="1.0"/>
<line x1="517.40" y1="843.35" x2="523.00" y2="843.35" stroke="#1a1af0" stroke-width="1.0"/>
<rect x="517.80" y="834.25" width="4.80" height="4.80" fill="#1a1af0"/>
<rect x="514.90" y="840.82" width="4.80" height="4.80" fill="#1a1af0"/>
<rect x="520.30" y="839.38" width="4.80" height="4.80" fill="#1a1af0"/>
<text x="520.20" y="825.70" font-size="7.8" text-anchor="middle" fill="#000" stroke="#000" stroke-width="0.16">***</text>
<line x1="534.86" y1="918.10" x2="534.86" y2="923.30" stroke="#000" stroke-width="1.6"/>
<text x="534.86" y="937.00" font-size="11.0" font-weight="bold" text-anchor="middle" fill="#000" stroke="#000" stroke-width="0.22">+</text>
<text transform="translate(538.76,946.60) rotate(-90)" font-size="10.9" font-weight="bold" text-anchor="end" fill="#000" stroke="#000" stroke-width="0.22">-</text>
<line x1="529.56" y1="901.94" x2="540.16" y2="901.94" stroke="#f5222d" stroke-width="1.2"/>
<line x1="534.86" y1="900.89" x2="534.86" y2="903.00" stroke="#f5222d" stroke-width="1.1"/>
<line x1="532.06" y1="900.89" x2="537.66" y2="900.89" stroke="#f5222d" stroke-width="1.0"/>
<line x1="532.06" y1="903.00" x2="537.66" y2="903.00" stroke="#f5222d" stroke-width="1.0"/>
<circle cx="531.66" cy="901.68" r="2.55" fill="#f5222d"/>
<circle cx="534.86" cy="901.16" r="2.55" fill="#f5222d"/>
<circle cx="538.06" cy="903.00" r="2.55" fill="#f5222d"/>
<line x1="549.52" y1="918.10" x2="549.52" y2="923.30" stroke="#000" stroke-width="1.6"/>
<text x="549.52" y="937.00" font-size="11.0" font-weight="bold" text-anchor="middle" fill="#000" stroke="#000" stroke-width="0.22">+</text>
<text transform="translate(553.42,946.60) rotate(-90)" font-size="10.9" font-weight="bold" text-anchor="end" fill="#000" stroke="#000" stroke-width="0.22">DM-<tspan font-family="Liberation Serif, serif" font-weight="normal" font-size="12">α</tspan>KG</text>
<line x1="544.22" y1="864.11" x2="554.82" y2="864.11" stroke="#1fc81f" stroke-width="1.2"/>
<line x1="549.52" y1="863.06" x2="549.52" y2="865.16" stroke="#1fc81f" stroke-width="1.1"/>
<line x1="546.72" y1="863.06" x2="552.32" y2="863.06" stroke="#1fc81f" stroke-width="1.0"/>
<line x1="546.72" y1="865.16" x2="552.32" y2="865.16" stroke="#1fc81f" stroke-width="1.0"/>
<circle cx="546.32" cy="865.16" r="2.55" fill="#1fc81f"/>
<circle cx="549.52" cy="863.58" r="2.55" fill="#1fc81f"/>
<circle cx="552.72" cy="863.58" r="2.55" fill="#1fc81f"/>
<text x="549.52" y="849.70" font-size="7.8" text-anchor="middle" fill="#000" stroke="#000" stroke-width="0.16">**</text>
<line x1="564.18" y1="918.10" x2="564.18" y2="923.30" stroke="#000" stroke-width="1.6"/>
<text x="564.18" y="937.00" font-size="11.0" font-weight="bold" text-anchor="middle" fill="#000" stroke="#000" stroke-width="0.22">+</text>
<text transform="translate(568.08,946.60) rotate(-90)" font-size="10.9" font-weight="bold" text-anchor="end" fill="#000" stroke="#000" stroke-width="0.22">Glu</text>
<line x1="558.88" y1="901.16" x2="569.48" y2="901.16" stroke="#a828e0" stroke-width="1.2"/>
<line x1="564.18" y1="897.74" x2="564.18" y2="904.05" stroke="#a828e0" stroke-width="1.1"/>
<line x1="561.38" y1="897.74" x2="566.98" y2="897.74" stroke="#a828e0" stroke-width="1.0"/>
<line x1="561.38" y1="904.05" x2="566.98" y2="904.05" stroke="#a828e0" stroke-width="1.0"/>
<circle cx="564.18" cy="897.74" r="2.55" fill="#a828e0"/>
<circle cx="561.28" cy="903.78" r="2.55" fill="#a828e0"/>
<circle cx="567.08" cy="901.94" r="2.55" fill="#a828e0"/>
<text x="564.48" y="888.50" font-size="7.2" text-anchor="middle" fill="#000" stroke="#000" stroke-width="0.16">ns</text>
<line x1="578.84" y1="918.10" x2="578.84" y2="923.30" stroke="#000" stroke-width="1.6"/>
<text x="578.84" y="937.00" font-size="11.0" font-weight="bold" text-anchor="middle" fill="#000" stroke="#000" stroke-width="0.22">+</text>
<text transform="translate(582.74,946.60) rotate(-90)" font-size="10.9" font-weight="bold" text-anchor="end" fill="#000" stroke="#000" stroke-width="0.22">F-1,6-BP</text>
<line x1="573.54" y1="904.31" x2="584.14" y2="904.31" stroke="#fd8613" stroke-width="1.2"/>
<line x1="578.84" y1="900.63" x2="578.84" y2="906.94" stroke="#fd8613" stroke-width="1.1"/>
<line x1="576.04" y1="900.63" x2="581.64" y2="900.63" stroke="#fd8613" stroke-width="1.0"/>
<line x1="576.04" y1="906.94" x2="581.64" y2="906.94" stroke="#fd8613" stroke-width="1.0"/>
<circle cx="578.84" cy="900.63" r="2.55" fill="#fd8613"/>
<circle cx="575.74" cy="906.41" r="2.55" fill="#fd8613"/>
<circle cx="581.74" cy="905.62" r="2.55" fill="#fd8613"/>
<text x="579.14" y="889.20" font-size="7.2" text-anchor="middle" fill="#000" stroke="#000" stroke-width="0.16">ns</text>
<line x1="593.50" y1="918.10" x2="593.50" y2="923.30" stroke="#000" stroke-width="1.6"/>
<text x="593.50" y="937.00" font-size="11.0" font-weight="bold" text-anchor="middle" fill="#000" stroke="#000" stroke-width="0.22">+</text>
<text transform="translate(597.40,946.60) rotate(-90)" font-size="10.9" font-weight="bold" text-anchor="end" fill="#000" stroke="#000" stroke-width="0.22">6-PG</text>
<line x1="588.20" y1="904.05" x2="598.80" y2="904.05" stroke="#000000" stroke-width="1.2"/>
<line x1="593.50" y1="897.74" x2="593.50" y2="907.20" stroke="#000000" stroke-width="1.1"/>
<line x1="590.70" y1="897.74" x2="596.30" y2="897.74" stroke="#000000" stroke-width="1.0"/>
<line x1="590.70" y1="907.20" x2="596.30" y2="907.20" stroke="#000000" stroke-width="1.0"/>
<circle cx="593.50" cy="897.74" r="2.55" fill="#000000"/>
<circle cx="590.30" cy="906.94" r="2.55" fill="#000000"/>
<circle cx="596.80" cy="906.94" r="2.55" fill="#000000"/>
<text x="593.80" y="884.20" font-size="7.2" text-anchor="middle" fill="#000" stroke="#000" stroke-width="0.16">ns</text>
<line x1="608.16" y1="918.10" x2="608.16" y2="923.30" stroke="#000" stroke-width="1.6"/>
<text x="608.16" y="937.00" font-size="11.0" font-weight="bold" text-anchor="middle" fill="#000" stroke="#000" stroke-width="0.22">+</text>
<text transform="translate(612.06,946.60) rotate(-90)" font-size="10.9" font-weight="bold" text-anchor="end" fill="#000" stroke="#000" stroke-width="0.22">Disulfiram</text>
<line x1="602.86" y1="904.31" x2="613.46" y2="904.31" stroke="#a87532" stroke-width="1.2"/>
<line x1="608.16" y1="901.94" x2="608.16" y2="907.72" stroke="#a87532" stroke-width="1.1"/>
<line x1="605.36" y1="901.94" x2="610.96" y2="901.94" stroke="#a87532" stroke-width="1.0"/>
<line x1="605.36" y1="907.72" x2="610.96" y2="907.72" stroke="#a87532" stroke-width="1.0"/>
<circle cx="605.26" cy="902.47" r="2.55" fill="#a87532"/>
<circle cx="611.06" cy="903.26" r="2.55" fill="#a87532"/>
<circle cx="608.16" cy="907.72" r="2.55" fill="#a87532"/>
<text x="608.46" y="892.80" font-size="7.2" text-anchor="middle" fill="#000" stroke="#000" stroke-width="0.16">ns</text>
<line x1="622.82" y1="918.10" x2="622.82" y2="923.30" stroke="#000" stroke-width="1.6"/>
<text x="622.82" y="937.00" font-size="11.0" font-weight="bold" text-anchor="middle" fill="#000" stroke="#000" stroke-width="0.22">+</text>
<text transform="translate(626.72,946.60) rotate(-90)" font-size="10.9" font-weight="bold" text-anchor="end" fill="#000" stroke="#000" stroke-width="0.22">Fer-1</text>
<line x1="617.52" y1="887.23" x2="628.12" y2="887.23" stroke="#1515a0" stroke-width="1.2"/>
<line x1="622.82" y1="883.82" x2="622.82" y2="891.43" stroke="#1515a0" stroke-width="1.1"/>
<line x1="620.02" y1="883.82" x2="625.62" y2="883.82" stroke="#1515a0" stroke-width="1.0"/>
<line x1="620.02" y1="891.43" x2="625.62" y2="891.43" stroke="#1515a0" stroke-width="1.0"/>
<circle cx="620.12" cy="884.08" r="2.55" fill="#1515a0"/>
<circle cx="625.92" cy="886.71" r="2.55" fill="#1515a0"/>
<circle cx="622.82" cy="891.43" r="2.55" fill="#1515a0"/>
<text x="622.82" y="874.70" font-size="7.8" text-anchor="middle" fill="#000" stroke="#000" stroke-width="0.16">*</text>
<line x1="637.48" y1="918.10" x2="637.48" y2="923.30" stroke="#000" stroke-width="1.6"/>
<text x="637.48" y="937.00" font-size="11.0" font-weight="bold" text-anchor="middle" fill="#000" stroke="#000" stroke-width="0.22">+</text>
<text transform="translate(641.38,946.60) rotate(-90)" font-size="10.9" font-weight="bold" text-anchor="end" fill="#000" stroke="#000" stroke-width="0.22">Nec-1</text>
<line x1="632.18" y1="900.89" x2="642.78" y2="900.89" stroke="#6a0f6a" stroke-width="1.2"/>
<line x1="637.48" y1="899.32" x2="637.48" y2="903.00" stroke="#6a0f6a" stroke-width="1.1"/>
<line x1="634.68" y1="899.32" x2="640.28" y2="899.32" stroke="#6a0f6a" stroke-width="1.0"/>
<line x1="634.68" y1="903.00" x2="640.28" y2="903.00" stroke="#6a0f6a" stroke-width="1.0"/>
<circle cx="634.38" cy="899.84" r="2.55" fill="#6a0f6a"/>
<circle cx="640.38" cy="899.84" r="2.55" fill="#6a0f6a"/>
<circle cx="635.68" cy="903.00" r="2.55" fill="#6a0f6a"/>
<text x="637.78" y="889.20" font-size="7.2" text-anchor="middle" fill="#000" stroke="#000" stroke-width="0.16">ns</text>
<line x1="652.14" y1="918.10" x2="652.14" y2="923.30" stroke="#000" stroke-width="1.6"/>
<text x="652.14" y="937.00" font-size="11.0" font-weight="bold" text-anchor="middle" fill="#000" stroke="#000" stroke-width="0.22">+</text>
<text transform="translate(656.04,946.60) rotate(-90)" font-size="10.9" font-weight="bold" text-anchor="end" fill="#000" stroke="#000" stroke-width="0.22">Z-VAD</text>
<line x1="646.84" y1="870.42" x2="657.44" y2="870.42" stroke="#b01218" stroke-width="1.2"/>
<line x1="652.14" y1="866.21" x2="652.14" y2="874.09" stroke="#b01218" stroke-width="1.1"/>
<line x1="649.34" y1="866.21" x2="654.94" y2="866.21" stroke="#b01218" stroke-width="1.0"/>
<line x1="649.34" y1="874.09" x2="654.94" y2="874.09" stroke="#b01218" stroke-width="1.0"/>
<circle cx="652.14" cy="866.21" r="2.55" fill="#b01218"/>
<circle cx="649.44" cy="873.57" r="2.55" fill="#b01218"/>
<circle cx="655.24" cy="871.73" r="2.55" fill="#b01218"/>
<text x="652.14" y="856.10" font-size="7.8" text-anchor="middle" fill="#000" stroke="#000" stroke-width="0.16">**</text>
<line x1="666.80" y1="918.10" x2="666.80" y2="923.30" stroke="#000" stroke-width="1.6"/>
<text x="666.80" y="937.00" font-size="11.0" font-weight="bold" text-anchor="middle" fill="#000" stroke="#000" stroke-width="0.22">+</text>
<text transform="translate(670.70,946.60) rotate(-90)" font-size="10.9" font-weight="bold" text-anchor="end" fill="#000" stroke="#000" stroke-width="0.22">Fer-1 + Z-VAD</text>
<line x1="661.50" y1="848.61" x2="672.10" y2="848.61" stroke="#0f6a2a" stroke-width="1.2"/>
<line x1="666.80" y1="839.41" x2="666.80" y2="855.18" stroke="#0f6a2a" stroke-width="1.1"/>
<line x1="664.00" y1="839.41" x2="669.60" y2="839.41" stroke="#0f6a2a" stroke-width="1.0"/>
<line x1="664.00" y1="855.18" x2="669.60" y2="855.18" stroke="#0f6a2a" stroke-width="1.0"/>
<circle cx="666.80" cy="839.41" r="2.55" fill="#0f6a2a"/>
<circle cx="666.80" cy="848.61" r="2.55" fill="#0f6a2a"/>
<circle cx="666.80" cy="855.18" r="2.55" fill="#0f6a2a"/>
<text x="666.80" y="825.70" font-size="7.8" text-anchor="middle" fill="#000" stroke="#000" stroke-width="0.16">***</text>
</g>
</svg></body></html>
